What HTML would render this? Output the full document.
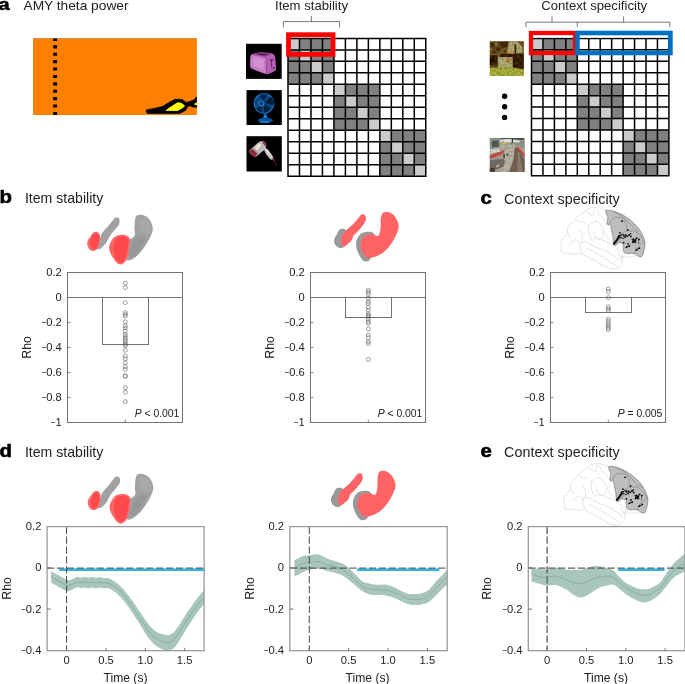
<!DOCTYPE html>
<html lang="en"><head><meta charset="utf-8"><title>Figure</title>
<style>html,body{margin:0;padding:0;background:#fff;}body{width:685px;height:684px;overflow:hidden;}svg{display:block;font-family:"Liberation Sans", sans-serif;will-change:transform;}</style></head><body>
<svg width="685" height="684" viewBox="0 0 685 684">
<defs><filter id="b1" x="-10%" y="-10%" width="120%" height="120%"><feGaussianBlur stdDeviation="0.35"/></filter><filter id="b15" x="-10%" y="-10%" width="120%" height="120%"><feGaussianBlur stdDeviation="0.5"/></filter><filter id="b2" x="-10%" y="-10%" width="120%" height="120%"><feGaussianBlur stdDeviation="0.6"/></filter><filter id="b3" x="-10%" y="-10%" width="120%" height="120%"><feGaussianBlur stdDeviation="1.1"/></filter><filter id="tx" x="0" y="0" width="100%" height="100%"><feTurbulence type="fractalNoise" baseFrequency="0.4" numOctaves="2" seed="7" result="n"/><feColorMatrix in="n" type="matrix" values="0 0 0 0 0.1  0 0 0 0 0.05  0 0 0 0 0  1.5 0 0 0 -0.6" result="a"/><feComposite in="a" in2="SourceGraphic" operator="in" result="m"/><feMerge><feMergeNode in="SourceGraphic"/><feMergeNode in="m"/></feMerge></filter><filter id="tx2" x="0" y="0" width="100%" height="100%"><feTurbulence type="fractalNoise" baseFrequency="0.45" numOctaves="2" seed="11" result="n"/><feColorMatrix in="n" type="matrix" values="0 0 0 0 0.15  0 0 0 0 0.15  0 0 0 0 0.15  1.4 0 0 0 -0.62" result="a"/><feComposite in="a" in2="SourceGraphic" operator="in" result="m"/><feMerge><feMergeNode in="SourceGraphic"/><feMergeNode in="m"/></feMerge></filter></defs>
<rect width="685" height="684" fill="#fff"/>
<text transform="translate(9.6 10.3) scale(1.16 1)" font-size="17.2" font-weight="bold" text-anchor="end" fill="#000" stroke="#000" stroke-width="0.55" stroke-linejoin="round">a</text>
<text x="23.5" y="10.1" font-size="12.4" text-anchor="start" font-weight="normal" font-style="normal" fill="#222" textLength="105" lengthAdjust="spacingAndGlyphs">AMY theta power</text>
<rect x="33" y="38.2" width="163.9" height="76.8" fill="#ff7f00"/>
<line x1="33" y1="38.4" x2="196.9" y2="38.4" stroke="#8a8a8a" stroke-width="0.5"/>
<line x1="55.1" y1="38.6" x2="55.1" y2="115" stroke="#000" stroke-width="3.9" stroke-dasharray="3.1 4.3" stroke-dashoffset="0.7"/>
<clipPath id="oc"><rect x="33" y="38.2" width="163.9" height="76.8"/></clipPath>
<g clip-path="url(#oc)">
<polygon points="146.57,109.7 154.01,108.39 162.77,106.37 168.9,102.43 175.03,99.28 182.03,99.28 186.41,102.43 190.79,101.12 194.29,99.81 195.87,97.18 197.79,96.83 197.79,107.51 192.54,107.08 189.91,105.76 187.72,106.81 185.53,110.58 179.84,113.47 147.44,113.47 146.13,111.54" fill="#000" stroke="#000" stroke-width="0.6" stroke-linejoin="round"/>
<polygon points="164.96,110.67 169.77,107.16 177.65,102.26 181.16,102.78 185.1,105.85 182.91,107.95 177.65,111.02" fill="#ffff00"/>
<polygon points="194.12,104.01 197.79,101.38 197.79,105.06 194.73,105.06" fill="#ffff00"/>
</g>
<rect x="288" y="38.4" width="137.76" height="137.76" fill="#fff"/>
<rect x="288" y="38.4" width="11.48" height="11.48" fill="#cbcbcb"/>
<rect x="299.48" y="38.4" width="11.48" height="11.48" fill="#808080"/>
<rect x="310.96" y="38.4" width="11.48" height="11.48" fill="#808080"/>
<rect x="322.44" y="38.4" width="11.48" height="11.48" fill="#808080"/>
<rect x="288" y="49.88" width="11.48" height="11.48" fill="#808080"/>
<rect x="299.48" y="49.88" width="11.48" height="11.48" fill="#cbcbcb"/>
<rect x="310.96" y="49.88" width="11.48" height="11.48" fill="#808080"/>
<rect x="322.44" y="49.88" width="11.48" height="11.48" fill="#808080"/>
<rect x="288" y="61.36" width="11.48" height="11.48" fill="#808080"/>
<rect x="299.48" y="61.36" width="11.48" height="11.48" fill="#808080"/>
<rect x="310.96" y="61.36" width="11.48" height="11.48" fill="#cbcbcb"/>
<rect x="322.44" y="61.36" width="11.48" height="11.48" fill="#808080"/>
<rect x="288" y="72.84" width="11.48" height="11.48" fill="#808080"/>
<rect x="299.48" y="72.84" width="11.48" height="11.48" fill="#808080"/>
<rect x="310.96" y="72.84" width="11.48" height="11.48" fill="#808080"/>
<rect x="322.44" y="72.84" width="11.48" height="11.48" fill="#cbcbcb"/>
<rect x="333.92" y="84.32" width="11.48" height="11.48" fill="#cbcbcb"/>
<rect x="345.4" y="84.32" width="11.48" height="11.48" fill="#808080"/>
<rect x="356.88" y="84.32" width="11.48" height="11.48" fill="#808080"/>
<rect x="368.36" y="84.32" width="11.48" height="11.48" fill="#808080"/>
<rect x="333.92" y="95.8" width="11.48" height="11.48" fill="#808080"/>
<rect x="345.4" y="95.8" width="11.48" height="11.48" fill="#cbcbcb"/>
<rect x="356.88" y="95.8" width="11.48" height="11.48" fill="#808080"/>
<rect x="368.36" y="95.8" width="11.48" height="11.48" fill="#808080"/>
<rect x="333.92" y="107.28" width="11.48" height="11.48" fill="#808080"/>
<rect x="345.4" y="107.28" width="11.48" height="11.48" fill="#808080"/>
<rect x="356.88" y="107.28" width="11.48" height="11.48" fill="#cbcbcb"/>
<rect x="368.36" y="107.28" width="11.48" height="11.48" fill="#808080"/>
<rect x="333.92" y="118.76" width="11.48" height="11.48" fill="#808080"/>
<rect x="345.4" y="118.76" width="11.48" height="11.48" fill="#808080"/>
<rect x="356.88" y="118.76" width="11.48" height="11.48" fill="#808080"/>
<rect x="368.36" y="118.76" width="11.48" height="11.48" fill="#cbcbcb"/>
<rect x="379.84" y="130.24" width="11.48" height="11.48" fill="#cbcbcb"/>
<rect x="391.32" y="130.24" width="11.48" height="11.48" fill="#808080"/>
<rect x="402.8" y="130.24" width="11.48" height="11.48" fill="#808080"/>
<rect x="414.28" y="130.24" width="11.48" height="11.48" fill="#808080"/>
<rect x="379.84" y="141.72" width="11.48" height="11.48" fill="#808080"/>
<rect x="391.32" y="141.72" width="11.48" height="11.48" fill="#cbcbcb"/>
<rect x="402.8" y="141.72" width="11.48" height="11.48" fill="#808080"/>
<rect x="414.28" y="141.72" width="11.48" height="11.48" fill="#808080"/>
<rect x="379.84" y="153.2" width="11.48" height="11.48" fill="#808080"/>
<rect x="391.32" y="153.2" width="11.48" height="11.48" fill="#808080"/>
<rect x="402.8" y="153.2" width="11.48" height="11.48" fill="#cbcbcb"/>
<rect x="414.28" y="153.2" width="11.48" height="11.48" fill="#808080"/>
<rect x="379.84" y="164.68" width="11.48" height="11.48" fill="#808080"/>
<rect x="391.32" y="164.68" width="11.48" height="11.48" fill="#808080"/>
<rect x="402.8" y="164.68" width="11.48" height="11.48" fill="#808080"/>
<rect x="414.28" y="164.68" width="11.48" height="11.48" fill="#cbcbcb"/>
<path d="M288 37.65V176.91M287.25 38.4H426.51M299.48 37.65V176.91M287.25 49.88H426.51M310.96 37.65V176.91M287.25 61.36H426.51M322.44 37.65V176.91M287.25 72.84H426.51M333.92 37.65V176.91M287.25 84.32H426.51M345.4 37.65V176.91M287.25 95.8H426.51M356.88 37.65V176.91M287.25 107.28H426.51M368.36 37.65V176.91M287.25 118.76H426.51M379.84 37.65V176.91M287.25 130.24H426.51M391.32 37.65V176.91M287.25 141.72H426.51M402.8 37.65V176.91M287.25 153.2H426.51M414.28 37.65V176.91M287.25 164.68H426.51M425.76 37.65V176.91M287.25 176.16H426.51" stroke="#000" stroke-width="1.5" fill="none"/>
<rect x="531.5" y="38.4" width="137.4" height="137.4" fill="#fff"/>
<rect x="531.5" y="38.4" width="11.45" height="11.45" fill="#cbcbcb"/>
<rect x="542.95" y="38.4" width="11.45" height="11.45" fill="#808080"/>
<rect x="554.4" y="38.4" width="11.45" height="11.45" fill="#808080"/>
<rect x="565.85" y="38.4" width="11.45" height="11.45" fill="#808080"/>
<rect x="531.5" y="49.85" width="11.45" height="11.45" fill="#808080"/>
<rect x="542.95" y="49.85" width="11.45" height="11.45" fill="#cbcbcb"/>
<rect x="554.4" y="49.85" width="11.45" height="11.45" fill="#808080"/>
<rect x="565.85" y="49.85" width="11.45" height="11.45" fill="#808080"/>
<rect x="531.5" y="61.3" width="11.45" height="11.45" fill="#808080"/>
<rect x="542.95" y="61.3" width="11.45" height="11.45" fill="#808080"/>
<rect x="554.4" y="61.3" width="11.45" height="11.45" fill="#cbcbcb"/>
<rect x="565.85" y="61.3" width="11.45" height="11.45" fill="#808080"/>
<rect x="531.5" y="72.75" width="11.45" height="11.45" fill="#808080"/>
<rect x="542.95" y="72.75" width="11.45" height="11.45" fill="#808080"/>
<rect x="554.4" y="72.75" width="11.45" height="11.45" fill="#808080"/>
<rect x="565.85" y="72.75" width="11.45" height="11.45" fill="#cbcbcb"/>
<rect x="577.3" y="84.2" width="11.45" height="11.45" fill="#cbcbcb"/>
<rect x="588.75" y="84.2" width="11.45" height="11.45" fill="#808080"/>
<rect x="600.2" y="84.2" width="11.45" height="11.45" fill="#808080"/>
<rect x="611.65" y="84.2" width="11.45" height="11.45" fill="#808080"/>
<rect x="577.3" y="95.65" width="11.45" height="11.45" fill="#808080"/>
<rect x="588.75" y="95.65" width="11.45" height="11.45" fill="#cbcbcb"/>
<rect x="600.2" y="95.65" width="11.45" height="11.45" fill="#808080"/>
<rect x="611.65" y="95.65" width="11.45" height="11.45" fill="#808080"/>
<rect x="577.3" y="107.1" width="11.45" height="11.45" fill="#808080"/>
<rect x="588.75" y="107.1" width="11.45" height="11.45" fill="#808080"/>
<rect x="600.2" y="107.1" width="11.45" height="11.45" fill="#cbcbcb"/>
<rect x="611.65" y="107.1" width="11.45" height="11.45" fill="#808080"/>
<rect x="577.3" y="118.55" width="11.45" height="11.45" fill="#808080"/>
<rect x="588.75" y="118.55" width="11.45" height="11.45" fill="#808080"/>
<rect x="600.2" y="118.55" width="11.45" height="11.45" fill="#808080"/>
<rect x="611.65" y="118.55" width="11.45" height="11.45" fill="#cbcbcb"/>
<rect x="623.1" y="130" width="11.45" height="11.45" fill="#cbcbcb"/>
<rect x="634.55" y="130" width="11.45" height="11.45" fill="#808080"/>
<rect x="646" y="130" width="11.45" height="11.45" fill="#808080"/>
<rect x="657.45" y="130" width="11.45" height="11.45" fill="#808080"/>
<rect x="623.1" y="141.45" width="11.45" height="11.45" fill="#808080"/>
<rect x="634.55" y="141.45" width="11.45" height="11.45" fill="#cbcbcb"/>
<rect x="646" y="141.45" width="11.45" height="11.45" fill="#808080"/>
<rect x="657.45" y="141.45" width="11.45" height="11.45" fill="#808080"/>
<rect x="623.1" y="152.9" width="11.45" height="11.45" fill="#808080"/>
<rect x="634.55" y="152.9" width="11.45" height="11.45" fill="#808080"/>
<rect x="646" y="152.9" width="11.45" height="11.45" fill="#cbcbcb"/>
<rect x="657.45" y="152.9" width="11.45" height="11.45" fill="#808080"/>
<rect x="623.1" y="164.35" width="11.45" height="11.45" fill="#808080"/>
<rect x="634.55" y="164.35" width="11.45" height="11.45" fill="#808080"/>
<rect x="646" y="164.35" width="11.45" height="11.45" fill="#808080"/>
<rect x="657.45" y="164.35" width="11.45" height="11.45" fill="#cbcbcb"/>
<path d="M531.5 37.65V176.55M530.75 38.4H669.65M542.95 37.65V176.55M530.75 49.85H669.65M554.4 37.65V176.55M530.75 61.3H669.65M565.85 37.65V176.55M530.75 72.75H669.65M577.3 37.65V176.55M530.75 84.2H669.65M588.75 37.65V176.55M530.75 95.65H669.65M600.2 37.65V176.55M530.75 107.1H669.65M611.65 37.65V176.55M530.75 118.55H669.65M623.1 37.65V176.55M530.75 130H669.65M634.55 37.65V176.55M530.75 141.45H669.65M646 37.65V176.55M530.75 152.9H669.65M657.45 37.65V176.55M530.75 164.35H669.65M668.9 37.65V176.55M530.75 175.8H669.65" stroke="#000" stroke-width="1.5" fill="none"/>
<rect x="288.5" y="34.7" width="44.5" height="19.7" fill="none" stroke="#ff0000" stroke-width="4.8"/>
<rect x="531" y="33" width="139" height="4.6" fill="#fff"/>
<rect x="531" y="33" width="44" height="20" fill="none" stroke="#ff0000" stroke-width="4.3"/>
<rect x="577.4" y="33" width="93" height="20" fill="none" stroke="#0070c0" stroke-width="4.6"/>
<path d="M283.4 27.4V21.6H339.6V27.4M311.4 21.6V16" fill="none" stroke="#555" stroke-width="0.8"/>
<path d="M526 27.2V22.2H669.8V27.2M577.3 22.2V27.2M552 22.2V16.4M623.6 22.2V16.4" fill="none" stroke="#555" stroke-width="0.8"/>
<text x="275" y="10.2" font-size="12.4" text-anchor="start" font-weight="normal" font-style="normal" fill="#222" textLength="73" lengthAdjust="spacingAndGlyphs">Item stability</text>
<text x="541.2" y="10.1" font-size="12.4" text-anchor="start" font-weight="normal" font-style="normal" fill="#222" textLength="106" lengthAdjust="spacingAndGlyphs">Context specificity</text>
<rect x="246" y="43.8" width="35.7" height="35.1" fill="#000"/>
<g filter="url(#b15)">
<path d="M251.7 54.23C252.6 53.9 259.49 52.39 261.2 52.33C262.9 52.27 271.02 53.2 272.16 53.5C273.31 53.8 274.65 55.19 274.94 55.91C275.23 56.63 275.61 60.93 275.67 62.12C275.73 63.31 276.44 69.15 275.67 70.16C274.9 71.17 268.52 74.42 266.46 74.26C264.4 74.1 252.33 69.27 250.96 68.26C249.6 67.25 250.14 63.12 250.09 62.12C250.04 61.12 250.25 56.93 250.38 56.27C250.51 55.62 250.79 54.56 251.7 54.23Z" fill="#b65eb6"/>
<path d="M251.55 55.54C252.69 55.25 263.31 57.46 264.49 57.88C265.67 58.31 265.63 59.41 265.73 60.66C265.83 61.92 266.9 72.37 265.73 72.94C264.56 73.51 252.94 68.49 251.7 67.53C250.45 66.57 250.83 62.39 250.82 61.39C250.81 60.39 250.41 55.84 251.55 55.54Z" fill="#c980c8"/>
<path d="M253.89 58.47C254.96 57.69 261.39 58.57 262.66 59.93C263.93 61.29 264.46 67.92 263.39 68.7C262.32 69.48 255.89 67.14 254.62 65.78C253.35 64.41 252.82 59.25 253.89 58.47Z" fill="#d596d3" opacity="0.8"/>
<polygon points="252.06,54.37 261.2,52.47 271.87,53.64 265.22,56.86" fill="#8a3c8b"/>
<polygon points="255.72,54.23 261.2,53.2 268.51,54.08 264.12,55.54" fill="#5a205a"/>
<polygon points="271.14,59.35 271.8,59.35 271.94,67.24 271.29,67.24" fill="#3a0f3a"/>
<polygon points="269.82,59.71 273.48,59.35 273.48,60.15 269.82,60.51" fill="#3a0f3a"/>
<circle cx="273.63" cy="67.97" r="0.8" fill="#2a082a"/>
<line x1="266.32" y1="59.93" x2="266.46" y2="73.96" stroke="#8a448a" stroke-width="0.7"/>
</g>
<rect x="246.5" y="90.1" width="35.3" height="34.9" fill="#000"/>
<g filter="url(#b2)">
<circle cx="263.98" cy="103.37" r="9.9" fill="#0a4482" stroke="#167fd6" stroke-width="1.1"/>
<path d="M264.78 102.87 l6.5 -6 a9 9 0 0 1 2.2 8.5z" fill="#031a36"/>
<path d="M264.58 104.17 l-1 8.6 a9 9 0 0 0 7.5 -4.2z" fill="#04203f"/>
<path d="M263.48 102.37 l-3.5 -7.5 a9 9 0 0 1 7 -0.8z" fill="#052548"/>
<path d="M262.78 104.37 l-6.5 4.5 a9 9 0 0 0 5 4z" fill="#052548"/>
<circle cx="261.18" cy="103.37" r="2.7" fill="#0a3a70" stroke="#2c97ec" stroke-width="0.9"/>
<rect x="263.84" y="112.87" width="3" height="5.4" fill="#0b5aa8"/>
<rect x="263.44" y="115.87" width="3.6" height="1.9" fill="#1c9bf5"/>
<ellipse cx="265.44" cy="120.18" rx="7.4" ry="2.6" fill="#0a4f94"/>
<ellipse cx="264.49" cy="122.01" rx="5.5" ry="0.9" fill="#1480d6"/>
</g>
<rect x="246.5" y="136.2" width="35.3" height="35.3" fill="#000"/>
<g filter="url(#b15)">
<path d="M259.59 141.55C260.32 141.21 262.88 140.72 263.54 140.96C264.2 141.21 266 143.22 266.17 144.04C266.34 144.85 265.64 148.39 265.22 149.15C264.8 149.91 262.95 150.86 261.93 151.64C260.91 152.41 256.29 156.89 254.99 156.9C253.68 156.92 248.79 153.04 248.92 151.78C249.04 150.53 255.16 145.35 256.23 144.33C257.3 143.3 258.86 141.89 259.59 141.55Z" fill="#bdb8c0"/>
<polygon points="258.27,143.6 261.35,144.47 257.4,150.47 254.33,149.15" fill="#f1e7ca"/>
<polygon points="248.48,151.64 252.57,148.86 257.54,153.83 254.47,157.49" fill="#8c2a34"/>
<polygon points="252.57,148.86 254.33,147.84 259.15,152.66 257.54,153.83" fill="#a8a0a8"/>
<polygon points="262.08,141.55 264.12,141.4 265.88,143.89 265.29,146.23 263.54,143.89" fill="#7d2430"/>
<path d="M264.49 148.13C264.73 147.81 266.75 148.61 267.41 149.15C268.07 149.69 270.45 152.62 271.07 153.54C271.69 154.46 273.5 157.72 273.63 158.36C273.75 159.01 272.79 160.04 272.31 159.97C271.83 159.9 269.61 158.39 268.87 157.63C268.14 156.87 265.44 153.32 265 152.37C264.56 151.42 264.25 148.45 264.49 148.13Z" fill="#cbc6ce"/>
<polygon points="265.73,149.15 267.34,149.59 270.12,154.12 268.95,154.56" fill="#f0e6c8"/>
<polygon points="272.02,158.07 274.36,158.65 274.94,160.85 272.89,160.41" fill="#6c2430"/>
<polyline points="273.99,159.97 275.45,163.26 276.55,165.82" fill="none" stroke="#6c2a34" stroke-width="0.9"/>
</g>
<clipPath id="hc"><rect x="489.7" y="41.3" width="34.2" height="34.6"/></clipPath>
<g clip-path="url(#hc)"><g filter="url(#b2)"><g filter="url(#tx)">
<rect x="488" y="40" width="38" height="38" fill="#7c6232"/>
<polygon points="489.73,41.33 501.27,41.33 504.93,46.81 500.54,51.93 496.16,54.12 489.73,53.39" fill="#624620"/>
<circle cx="492.5" cy="44.99" r="1.9" fill="#402a10"/>
<circle cx="497.99" cy="49.15" r="2.05" fill="#3c260e"/>
<circle cx="503.1" cy="44.47" r="1.9" fill="#3a240c"/>
<circle cx="493.96" cy="52.3" r="1.46" fill="#402a10"/>
<circle cx="504.93" cy="51.35" r="1.46" fill="#46300f"/>
<circle cx="496.3" cy="44.04" r="1.61" fill="#98783c"/>
<circle cx="490.89" cy="49.15" r="1.46" fill="#927236"/>
<circle cx="500.91" cy="52.3" r="1.32" fill="#8a6a30"/>
<circle cx="500.54" cy="42.79" r="1.02" fill="#7a5a28"/>
<circle cx="506.39" cy="47.54" r="0.88" fill="#76561f"/>
<polygon points="498.35,41.33 508.58,41.33 508.22,46.45 502.74,48.27" fill="#3a220c"/>
<polygon points="508.95,42.06 517.36,41.7 522.47,47.18 522.11,52.81 507.49,53.25 508.22,44.62" fill="#b0aa72"/>
<polygon points="508.22,50.61 515.16,50.61 515.16,54.12 508.22,54.12" fill="#c89a58"/>
<polygon points="514.58,44.25 516.19,44.25 516.19,53.39 514.58,53.39" fill="#2b1607"/>
<polygon points="517.36,41.33 524.3,41.33 524.3,48.27" fill="#6a4c20"/>
<polygon points="500.18,53.76 524.3,53.76 524.3,69.47 512.61,68.38 512.61,57.19 500.18,57.19" fill="#2a1608"/>
<polygon points="489.43,55.22 497.62,55.22 497.62,65.09 489.43,65.09" fill="#1c0e05"/>
<polygon points="497.84,57.05 512.61,57.05 512.61,68.01 497.84,68.01" fill="#b0ac74"/>
<polygon points="506.25,57.41 509.46,57.41 509.46,62.53 506.25,62.53" fill="#b87a3c"/>
<polygon points="489.43,64.94 497.99,64.21 497.99,68.16 489.43,68.16" fill="#5a4a20"/>
<polygon points="489.21,67.87 512.24,67.43 524.3,69.47 524.3,76.78 489.21,76.78" fill="#a9b23e"/>
</g></g></g>
<clipPath id="sc"><rect x="489.7" y="138.1" width="35.1" height="33.8"/></clipPath>
<g clip-path="url(#sc)"><g filter="url(#b2)"><g filter="url(#tx2)">
<rect x="488" y="136" width="39" height="38" fill="#a69e8e"/>
<polygon points="489.21,137.5 525.4,137.5 525.4,146.27 512.24,145.54 489.21,149.2" fill="#8e9488"/>
<polygon points="492.14,140.79 498.72,140.43 498.72,146.64 492.14,147.37" fill="#46544c"/>
<polygon points="500.54,137.5 523.94,137.5 523.94,139.7 500.54,139.55" fill="#3e4842"/>
<polygon points="500.18,139.4 509.32,138.67 519.55,140.43 519.55,142.62 500.18,142.33" fill="#e0e4dc"/>
<polygon points="511.8,137.5 513.04,137.5 513.04,142.99 511.8,142.99" fill="#2e3a34"/>
<polygon points="500.54,143.06 508.73,143.06 508.73,144.23 500.54,144.23" fill="#d9c43a"/>
<polygon points="499.81,144.81 515.16,144.45 515.16,147.37 499.81,148.83" fill="#b4b4a8"/>
<polygon points="489.21,149.2 499.08,148.47 500.54,151.39 489.21,153.73" fill="#d4d8d0"/>
<polygon points="489.21,155.78 504.2,150.3 504.78,152.12 501.27,154.32 491.04,158.56 489.21,158.56" fill="#cc3f38"/>
<polygon points="489.21,160.16 504.2,158.7 504.93,166.01 489.21,172.59" fill="#706860"/>
<polygon points="504.2,149.93 514.43,147.15 513.7,158.7 507.12,172.59 500.54,172.59 504.93,163.09" fill="#bab2a2"/>
<polygon points="514.8,147.74 517.36,147.74 525.4,160.16 525.4,172.59 509.32,172.59 513.7,158.7" fill="#705c4c"/>
<polygon points="517.36,152.12 519.55,152.12 522.47,172.59 517.36,172.59" fill="#8e7c6c"/>
<polygon points="516.48,146.86 518.09,147.3 525.4,155.05 525.4,157.97 517.36,149.2" fill="#c4433a"/>
<polygon points="489.21,167.84 494.7,167.84 494.7,172.59 489.21,172.59" fill="#40362c"/>
<polygon points="503.32,154.32 504.93,154.32 504.93,158.12 503.32,158.12" fill="#3a4650"/>
<polygon points="506.39,153.58 508.58,153.58 508.58,155.78 506.39,155.78" fill="#4a5058"/>
<polygon points="496.16,166.01 498.72,164.55 499.08,165.65 496.52,167.47" fill="#dcd8cc"/>
</g></g></g>
<circle cx="504.6" cy="96.2" r="2.7" fill="#000"/>
<circle cx="504.6" cy="106.8" r="2.7" fill="#000"/>
<circle cx="504.6" cy="117.4" r="2.7" fill="#000"/>
<text transform="translate(11.9 202.5) scale(1.16 1)" font-size="17.6" font-weight="bold" text-anchor="end" fill="#000" stroke="#000" stroke-width="0.55" stroke-linejoin="round">b</text>
<text x="24.9" y="202.5" font-size="14.3" text-anchor="start" font-weight="normal" font-style="normal" fill="#222" textLength="78.4" lengthAdjust="spacingAndGlyphs">Item stability</text>
<g filter="url(#b1)">
<path d="M114.69 217.88C115.63 217.35 117.3 217.24 118.11 217.61C118.92 217.99 119.42 218.93 119.55 220.11C119.68 221.29 119.62 223.18 118.9 224.71C118.17 226.24 116.66 227.51 115.22 229.31C113.77 231.11 111.76 233.19 110.22 235.49C108.69 237.79 107.73 240.87 106.02 243.11C104.31 245.34 101.42 248.19 99.97 248.89C98.53 249.59 97.39 248.85 97.35 247.31C97.3 245.78 98.92 242.06 99.71 239.69C100.5 237.33 100.72 235.31 102.08 233.12C103.43 230.93 106.13 228.61 107.86 226.55C109.59 224.49 111.32 222.21 112.46 220.77C113.6 219.32 113.75 218.4 114.69 217.88Z" fill="#a0a2a1"/>
<path d="M93.14 232.86C94.19 232.16 95.99 231.65 97.08 231.94C98.18 232.22 99.21 233.36 99.71 234.57C100.21 235.77 100.15 237.52 100.11 239.17C100.06 240.81 99.95 242.74 99.45 244.42C98.94 246.11 98.13 248.19 97.08 249.28C96.03 250.38 94.41 250.99 93.14 250.99C91.87 250.99 90.45 250.38 89.46 249.28C88.48 248.19 87.45 246 87.23 244.42C87.01 242.84 87.56 241.2 88.15 239.82C88.74 238.44 89.94 237.3 90.78 236.14C91.61 234.98 92.09 233.56 93.14 232.86Z" fill="#ff6668"/>
<path d="M93.8 234.17C94.63 233.69 96.25 233.36 97.08 233.65C97.92 233.93 98.48 234.92 98.79 235.88C99.1 236.84 99.03 238.05 98.92 239.43C98.81 240.81 98.66 242.76 98.13 244.16C97.61 245.56 96.6 247.01 95.77 247.84C94.94 248.67 93.93 249.24 93.14 249.15C92.35 249.06 91.61 248.19 91.04 247.31C90.47 246.44 89.72 245.21 89.72 243.9C89.72 242.58 90.64 240.65 91.04 239.43C91.43 238.2 91.63 237.41 92.09 236.54C92.55 235.66 92.97 234.65 93.8 234.17Z" fill="#ff4a4e"/>
<path d="M136.5 215.78C137.64 214.79 139.9 214.57 141.76 214.86C143.62 215.14 146.03 216.06 147.67 217.48C149.32 218.91 150.78 221.32 151.62 223.4C152.45 225.48 152.95 227.56 152.67 229.97C152.38 232.38 151.29 235 149.91 237.85C148.53 240.7 146.4 244.2 144.39 247.05C142.37 249.9 139.96 252.85 137.82 254.93C135.67 257.01 133.33 258.66 131.51 259.53C129.69 260.41 127.83 260.96 126.91 260.19C125.99 259.42 125.66 257.56 125.99 254.93C126.32 252.31 128.23 247.01 128.88 244.42C129.54 241.84 129.32 240.52 129.93 239.43C130.55 238.33 131.73 238.66 132.56 237.85C133.39 237.04 134.62 236.1 134.93 234.57C135.23 233.03 134.4 230.95 134.4 228.65C134.4 226.35 134.58 222.92 134.93 220.77C135.28 218.62 135.37 216.76 136.5 215.78Z" fill="#a0a2a1"/>
<path d="M136.5 237.85C138.21 236.1 140.23 235.22 141.76 235.22C143.29 235.22 145.7 235.88 145.7 237.85C145.7 239.82 143.51 244.2 141.76 247.05C140.01 249.9 137.05 253.07 135.19 254.93C133.33 256.8 131.64 258.22 130.59 258.22C129.54 258.22 128.73 257.01 128.88 254.93C129.04 252.85 130.24 248.58 131.51 245.74C132.78 242.89 134.8 239.6 136.5 237.85Z" fill="#939594" opacity="0.8" filter="url(#b3)"/>
<path d="M139.13 219.45C140.12 217.81 143.84 217.92 145.7 218.8C147.56 219.67 149.65 222.41 150.3 224.71C150.96 227.01 150.63 231.17 149.65 232.6C148.66 234.02 146.03 233.91 144.39 233.25C142.75 232.6 140.67 230.95 139.79 228.65C138.91 226.35 138.15 221.1 139.13 219.45Z" fill="#a9abaa" opacity="0.8" filter="url(#b3)"/>
<path d="M117.45 235.49C119.07 234.98 121.61 234.65 123.36 234.83C125.12 235 126.85 235.71 127.96 236.54C129.08 237.37 129.82 238.07 130.07 239.82C130.31 241.57 129.74 244.53 129.41 247.05C129.08 249.57 128.75 252.53 128.09 254.93C127.44 257.34 126.69 259.91 125.47 261.5C124.24 263.1 122.18 264.31 120.74 264.53C119.29 264.75 118.11 263.98 116.79 262.82C115.48 261.66 113.99 259.31 112.85 257.56C111.71 255.81 110.6 254.06 109.96 252.31C109.33 250.55 108.89 248.8 109.04 247.05C109.19 245.3 110.11 243.33 110.88 241.79C111.65 240.26 112.54 238.9 113.64 237.85C114.73 236.8 115.83 235.99 117.45 235.49Z" fill="#ff6668"/>
<path d="M118.37 237.06C119.68 236.58 121.92 236.36 123.36 236.54C124.81 236.71 126.21 237.41 127.04 238.11C127.88 238.82 128.23 239.21 128.36 240.74C128.49 242.28 128.14 245.04 127.83 247.31C127.53 249.59 127.13 252.26 126.52 254.41C125.9 256.55 125.12 258.83 124.15 260.19C123.19 261.55 121.79 262.38 120.74 262.56C119.68 262.73 118.81 262.16 117.84 261.24C116.88 260.32 115.52 258.48 114.95 257.04C114.38 255.59 114.78 254.06 114.43 252.57C114.08 251.08 112.85 249.63 112.85 248.1C112.85 246.57 113.99 244.82 114.43 243.37C114.87 241.93 114.82 240.48 115.48 239.43C116.14 238.38 117.06 237.54 118.37 237.06Z" fill="#ff4a4e"/>
</g>
<rect x="102.5" y="297.5" width="46" height="47" fill="#fff" stroke="#727272" stroke-width="1"/>
<rect x="67.5" y="272.5" width="115" height="150" fill="none" stroke="#727272" stroke-width="1"/>
<line x1="67.5" y1="297.5" x2="182.5" y2="297.5" stroke="#727272" stroke-width="1"/>
<text transform="translate(61.8 276.2) scale(1.12 1)" font-size="10" text-anchor="end" font-weight="normal" font-style="normal" fill="#222">0.2</text>
<text transform="translate(61.8 301.2) scale(1.12 1)" font-size="10" text-anchor="end" font-weight="normal" font-style="normal" fill="#222">0</text>
<text transform="translate(61.8 326.2) scale(1.12 1)" font-size="10" text-anchor="end" font-weight="normal" font-style="normal" fill="#222">0.2</text>
<text transform="translate(46.33 326.2) scale(0.8 1)" font-size="10" text-anchor="end" font-weight="normal" font-style="normal" fill="#222">−</text>
<text transform="translate(61.8 351.2) scale(1.12 1)" font-size="10" text-anchor="end" font-weight="normal" font-style="normal" fill="#222">0.4</text>
<text transform="translate(46.33 351.2) scale(0.8 1)" font-size="10" text-anchor="end" font-weight="normal" font-style="normal" fill="#222">−</text>
<text transform="translate(61.8 376.2) scale(1.12 1)" font-size="10" text-anchor="end" font-weight="normal" font-style="normal" fill="#222">0.6</text>
<text transform="translate(46.33 376.2) scale(0.8 1)" font-size="10" text-anchor="end" font-weight="normal" font-style="normal" fill="#222">−</text>
<text transform="translate(61.8 401.2) scale(1.12 1)" font-size="10" text-anchor="end" font-weight="normal" font-style="normal" fill="#222">0.8</text>
<text transform="translate(46.33 401.2) scale(0.8 1)" font-size="10" text-anchor="end" font-weight="normal" font-style="normal" fill="#222">−</text>
<text transform="translate(61.8 426.2) scale(1.12 1)" font-size="10" text-anchor="end" font-weight="normal" font-style="normal" fill="#222">1</text>
<text transform="translate(55.67 426.2) scale(0.8 1)" font-size="10" text-anchor="end" font-weight="normal" font-style="normal" fill="#222">−</text>
<path d="M67.5 322.5h3M67.5 347.5h3M67.5 372.5h3M67.5 397.5h3M125.3 422.5v-3" stroke="#727272" stroke-width="0.8" fill="none"/>
<g fill="none" stroke="#555" stroke-width="0.55">
<circle cx="125.3" cy="283.16" r="2"/>
<circle cx="125.3" cy="287.63" r="2"/>
<circle cx="125.3" cy="302.63" r="2"/>
<circle cx="125.3" cy="312.63" r="2"/>
<circle cx="125.3" cy="314.47" r="2"/>
<circle cx="125.3" cy="316.05" r="2"/>
<circle cx="125.3" cy="321.84" r="2"/>
<circle cx="125.3" cy="325.79" r="2"/>
<circle cx="125.3" cy="327.89" r="2"/>
<circle cx="125.3" cy="331.05" r="2"/>
<circle cx="125.3" cy="334.47" r="2"/>
<circle cx="125.3" cy="336.32" r="2"/>
<circle cx="125.3" cy="338.16" r="2"/>
<circle cx="125.3" cy="340.26" r="2"/>
<circle cx="125.3" cy="342.11" r="2"/>
<circle cx="125.3" cy="344.21" r="2"/>
<circle cx="125.3" cy="345.53" r="2"/>
<circle cx="125.3" cy="350.26" r="2"/>
<circle cx="125.3" cy="356.05" r="2"/>
<circle cx="125.3" cy="358.68" r="2"/>
<circle cx="125.3" cy="362.63" r="2"/>
<circle cx="125.3" cy="366.58" r="2"/>
<circle cx="125.3" cy="369.21" r="2"/>
<circle cx="125.3" cy="375.79" r="2"/>
<circle cx="125.3" cy="376.32" r="2"/>
<circle cx="125.3" cy="387.63" r="2"/>
<circle cx="125.3" cy="392.11" r="2"/>
<circle cx="125.3" cy="401.58" r="2"/>
</g>
<text transform="translate(31.2 347.4) rotate(-90)" font-size="12" text-anchor="middle" fill="#222" textLength="22.5" lengthAdjust="spacingAndGlyphs">Rho</text>
<text transform="translate(179.4 416.6) scale(1.04 1)" font-size="10" text-anchor="end" fill="#222"><tspan font-style="italic">P</tspan> &lt; 0.001</text>
<g filter="url(#b1)">
<path d="M339.72 229.44C341.03 228.54 343.55 228.54 344.71 229.18C345.87 229.81 346.46 231.15 346.68 233.25C346.9 235.35 346.46 239.54 346.02 241.79C345.59 244.05 344.97 245.71 344.05 246.79C343.13 247.86 341.71 248.28 340.51 248.23C339.3 248.19 337.83 247.38 336.83 246.52C335.82 245.67 334.86 244.44 334.46 243.11C334.07 241.77 334.07 239.93 334.46 238.51C334.86 237.08 335.95 236.08 336.83 234.57C337.7 233.06 338.4 230.34 339.72 229.44Z" fill="#989a99"/>
<path d="M363.11 232.6C364.82 232.03 367.88 231.63 369.68 231.81C371.47 231.98 372.9 232.42 373.88 233.65C374.87 234.87 375.53 236.49 375.59 239.17C375.66 241.84 375 246.61 374.28 249.68C373.55 252.74 372.13 255.77 371.25 257.56C370.38 259.36 370.05 259.82 369.02 260.45C367.99 261.09 366.28 261.59 365.08 261.37C363.87 261.15 362.89 260.43 361.79 259.14C360.7 257.85 359.43 255.64 358.51 253.62C357.59 251.61 356.6 249.24 356.27 247.05C355.95 244.86 356.01 242.45 356.54 240.48C357.06 238.51 358.33 236.54 359.43 235.22C360.52 233.91 361.4 233.16 363.11 232.6Z" fill="#989a99"/>
<path d="M361.14 214.86C362.23 214.18 363.61 214.18 364.42 214.72C365.23 215.27 365.89 216.91 366 218.14C366.11 219.37 365.78 220.66 365.08 222.08C364.38 223.51 363.11 225.04 361.79 226.68C360.48 228.32 358.62 230.41 357.19 231.94C355.77 233.47 354.13 234.57 353.25 235.88C352.38 237.19 352.92 238.4 351.94 239.82C350.95 241.25 348.72 243.3 347.34 244.42C345.96 245.54 344.67 246.63 343.66 246.52C342.65 246.41 341.69 245.1 341.29 243.76C340.9 242.43 340.94 240.26 341.29 238.51C341.64 236.76 342.39 234.79 343.4 233.25C344.4 231.72 345.7 230.84 347.34 229.31C348.98 227.78 351.5 225.81 353.25 224.05C355 222.3 356.54 220.33 357.85 218.8C359.17 217.26 360.04 215.53 361.14 214.86Z" fill="#ff6366"/>
<path d="M382.82 212.88C384.02 211.88 386.32 211.77 388.07 212.1C389.83 212.42 391.8 213.41 393.33 214.86C394.86 216.3 396.38 218.69 397.27 220.77C398.17 222.85 398.92 224.93 398.72 227.34C398.52 229.75 397.43 232.38 396.09 235.22C394.75 238.07 392.7 241.68 390.7 244.42C388.71 247.16 386.32 249.77 384.13 251.65C381.94 253.53 379.75 254.72 377.56 255.72C375.37 256.73 372.92 257.5 370.99 257.69C369.06 257.89 367.4 257.8 366 256.91C364.6 256.01 363.5 253.95 362.58 252.31C361.66 250.66 360.72 248.8 360.48 247.05C360.24 245.3 360.7 243.44 361.14 241.79C361.57 240.15 362.12 238.38 363.11 237.19C364.09 236.01 365.3 235.11 367.05 234.7C368.8 234.28 371.8 234.48 373.62 234.7C375.44 234.92 376.86 236.58 377.96 236.01C379.05 235.44 379.73 233.16 380.19 231.28C380.65 229.4 380.61 226.9 380.72 224.71C380.83 222.52 380.5 220.11 380.85 218.14C381.2 216.17 381.61 213.89 382.82 212.88Z" fill="#ff6366"/>
</g>
<rect x="345.5" y="297.5" width="46" height="20" fill="#fff" stroke="#727272" stroke-width="1"/>
<rect x="310.5" y="272.5" width="115" height="150" fill="none" stroke="#727272" stroke-width="1"/>
<line x1="310.5" y1="297.5" x2="425.5" y2="297.5" stroke="#727272" stroke-width="1"/>
<text transform="translate(304.8 276.2) scale(1.12 1)" font-size="10" text-anchor="end" font-weight="normal" font-style="normal" fill="#222">0.2</text>
<text transform="translate(304.8 301.2) scale(1.12 1)" font-size="10" text-anchor="end" font-weight="normal" font-style="normal" fill="#222">0</text>
<text transform="translate(304.8 326.2) scale(1.12 1)" font-size="10" text-anchor="end" font-weight="normal" font-style="normal" fill="#222">0.2</text>
<text transform="translate(289.33 326.2) scale(0.8 1)" font-size="10" text-anchor="end" font-weight="normal" font-style="normal" fill="#222">−</text>
<text transform="translate(304.8 351.2) scale(1.12 1)" font-size="10" text-anchor="end" font-weight="normal" font-style="normal" fill="#222">0.4</text>
<text transform="translate(289.33 351.2) scale(0.8 1)" font-size="10" text-anchor="end" font-weight="normal" font-style="normal" fill="#222">−</text>
<text transform="translate(304.8 376.2) scale(1.12 1)" font-size="10" text-anchor="end" font-weight="normal" font-style="normal" fill="#222">0.6</text>
<text transform="translate(289.33 376.2) scale(0.8 1)" font-size="10" text-anchor="end" font-weight="normal" font-style="normal" fill="#222">−</text>
<text transform="translate(304.8 401.2) scale(1.12 1)" font-size="10" text-anchor="end" font-weight="normal" font-style="normal" fill="#222">0.8</text>
<text transform="translate(289.33 401.2) scale(0.8 1)" font-size="10" text-anchor="end" font-weight="normal" font-style="normal" fill="#222">−</text>
<text transform="translate(304.8 426.2) scale(1.12 1)" font-size="10" text-anchor="end" font-weight="normal" font-style="normal" fill="#222">1</text>
<text transform="translate(298.67 426.2) scale(0.8 1)" font-size="10" text-anchor="end" font-weight="normal" font-style="normal" fill="#222">−</text>
<path d="M310.5 322.5h3M310.5 347.5h3M310.5 372.5h3M310.5 397.5h3M368.3 422.5v-3" stroke="#727272" stroke-width="0.8" fill="none"/>
<g fill="none" stroke="#555" stroke-width="0.55">
<circle cx="368.3" cy="290.26" r="2"/>
<circle cx="368.3" cy="292.11" r="2"/>
<circle cx="368.3" cy="294.21" r="2"/>
<circle cx="368.3" cy="298.16" r="2"/>
<circle cx="368.3" cy="301.58" r="2"/>
<circle cx="368.3" cy="303.42" r="2"/>
<circle cx="368.3" cy="307.37" r="2"/>
<circle cx="368.3" cy="310" r="2"/>
<circle cx="368.3" cy="313.95" r="2"/>
<circle cx="368.3" cy="315.26" r="2"/>
<circle cx="368.3" cy="316.58" r="2"/>
<circle cx="368.3" cy="319.21" r="2"/>
<circle cx="368.3" cy="321.84" r="2"/>
<circle cx="368.3" cy="323.16" r="2"/>
<circle cx="368.3" cy="328.95" r="2"/>
<circle cx="368.3" cy="335" r="2"/>
<circle cx="368.3" cy="337.63" r="2"/>
<circle cx="368.3" cy="341.58" r="2"/>
<circle cx="368.3" cy="343.42" r="2"/>
<circle cx="368.3" cy="359.47" r="2"/>
</g>
<text transform="translate(274.2 347.4) rotate(-90)" font-size="12" text-anchor="middle" fill="#222" textLength="22.5" lengthAdjust="spacingAndGlyphs">Rho</text>
<text transform="translate(422.4 416.6) scale(1.04 1)" font-size="10" text-anchor="end" fill="#222"><tspan font-style="italic">P</tspan> &lt; 0.001</text>
<text transform="translate(491.8 203.9) scale(1.16 1)" font-size="17.6" font-weight="bold" text-anchor="end" fill="#000" stroke="#000" stroke-width="0.55" stroke-linejoin="round">c</text>
<text x="504.1" y="203.8" font-size="14.3" text-anchor="start" font-weight="normal" font-style="normal" fill="#222" textLength="115.7" lengthAdjust="spacingAndGlyphs">Context specificity</text>
<g fill="none" stroke="#cdcdcd" stroke-width="0.55">
<path d="M606.6 210.31C605.67 210.02 603.11 209.09 600.98 208.58C598.86 208.07 596.05 207.16 593.83 207.25C591.62 207.33 589.23 208.27 587.7 209.09C586.17 209.9 586 211.22 584.63 212.15C583.27 213.09 581.06 213.52 579.52 214.71C577.99 215.9 576.97 217.69 575.44 219.31C573.9 220.92 571.69 222.88 570.33 224.42C568.97 225.95 567.69 226.97 567.26 228.5C566.84 230.04 568.45 232.08 567.77 233.61C567.09 235.15 564.28 236 563.17 237.7C562.07 239.4 561.39 241.62 561.13 243.83C560.88 246.05 561.27 249.45 561.64 250.98C562.02 252.52 562.27 252.69 563.38 253.03C564.49 253.37 566.27 252.82 568.28 253.03C570.29 253.23 573.39 254.25 575.44 254.25C577.48 254.25 578.84 252.72 580.55 253.03C582.25 253.33 583.44 254.9 585.66 256.09C587.87 257.29 591.28 258.82 593.83 260.18C596.39 261.54 598.6 262.99 600.98 264.27C603.37 265.55 605.58 267.13 608.14 267.84C610.69 268.56 614.1 269.12 616.31 268.56C618.53 268 620.45 265.87 621.42 264.47C622.39 263.08 622.31 261.58 622.14 260.18C621.97 258.78 621.2 257.8 620.4 256.09C619.6 254.39 617.84 250.98 617.33 249.96"/>
<path d="M585.66 211.64C586.34 211.98 588.55 213.09 589.74 213.69C590.94 214.28 592.13 215.64 592.81 215.22C593.49 214.79 593.58 212.32 593.83 211.13C594.09 209.94 594.26 208.58 594.34 208.07"/>
<path d="M596.9 209.09C597.24 209.94 597.92 212.66 598.94 214.2C599.96 215.73 601.84 216.92 603.03 218.28C604.22 219.65 604.9 221.32 606.09 222.37C607.29 223.43 609.5 224.25 610.18 224.62"/>
<path d="M575.44 219.82C576.12 220.07 577.99 220.92 579.52 221.35C581.06 221.78 583.1 221.69 584.63 222.37C586.17 223.05 587.36 225.44 588.72 225.44C590.08 225.44 591.45 222.97 592.81 222.37C594.17 221.78 595.53 221.35 596.9 221.86C598.26 222.37 599.79 223.99 600.98 225.44C602.18 226.89 603.2 228.84 604.05 230.55C604.9 232.25 604.73 233.61 606.09 235.66C607.46 237.7 611.2 241.62 612.22 242.81"/>
<path d="M588.72 225.44C588.64 226.29 588.04 228.84 588.21 230.55C588.38 232.25 589.15 234.12 589.74 235.66C590.34 237.19 590.77 239.23 591.79 239.74C592.81 240.25 594.51 238.72 595.87 238.72C597.24 238.72 599.28 239.57 599.96 239.74"/>
<path d="M567.77 233.61C568.2 234.12 569.99 235.83 570.33 236.68C570.67 237.53 569.9 238.38 569.82 238.72"/>
<path d="M579.52 229.52C580.04 230.38 582.16 232.93 582.59 234.63C583.02 236.34 582.59 238.47 582.08 239.74C581.57 241.02 580.63 242.3 579.52 242.3C578.42 242.3 577.23 239.32 575.44 239.74C573.65 240.17 569.9 244 568.8 244.85"/>
<path d="M593.83 231.57C593.92 232.25 593.66 234.55 594.34 235.66C595.02 236.76 596.3 237.36 597.92 238.21C599.54 239.06 602.01 239.83 604.05 240.77C606.09 241.7 608.56 243.12 610.18 243.83C611.8 244.55 613.16 244.85 613.76 245.06"/>
<path d="M580.55 242.81C581.4 242.64 583.95 241.45 585.66 241.79C587.36 242.13 588.72 243.83 590.77 244.85C592.81 245.87 595.36 246.9 597.92 247.92C600.47 248.94 603.37 249.62 606.09 250.98C608.82 252.35 611.88 254.48 614.27 256.09C616.65 257.71 619.38 259.93 620.4 260.69"/>
<path d="M580.55 242.81C580.46 243.66 579.7 246.22 580.04 247.92C580.38 249.62 582.16 252.18 582.59 253.03"/>
<path d="M585.66 247.92C587.02 248.6 590.94 250.47 593.83 252.01C596.73 253.54 599.96 255.24 603.03 257.12C606.09 258.99 609.84 261.71 612.22 263.25C614.61 264.78 616.48 265.8 617.33 266.31"/>
<path d="M616.31 247.92C616.99 248.26 619.34 248.94 620.4 249.96C621.46 250.98 622.36 252.35 622.65 254.05C622.94 255.75 622.22 259.16 622.14 260.18"/>
<path d="M600.98 238.72C601.32 238.21 602.86 237.02 603.03 235.66C603.2 234.29 602.18 231.4 602.01 230.55"/>
<path d="M620.4 256.09C621.42 256.26 624.49 257.03 626.53 257.12C628.57 257.2 630.45 256.94 632.66 256.6C634.88 256.26 638.62 255.33 639.82 255.07"/>
</g>
<path d="M606.09 210.22C606.95 209.96 611.52 210.44 613.39 210.95C615.27 211.46 620.11 213.49 622.15 214.6C624.2 215.71 629.04 218.91 630.91 220.44C632.79 221.97 636.85 226.03 638.21 227.74C639.57 229.44 641.81 233.33 642.59 235.04C643.37 236.74 644.74 240.63 644.93 242.34C645.11 244.04 644.54 248 644.2 249.64C643.86 251.27 642.67 255.57 642.01 256.35C641.34 257.13 639.37 256.66 638.5 256.35C637.64 256.04 635.96 254.06 634.56 253.72C633.17 253.38 627.81 253.7 626.53 253.43C625.26 253.16 624.04 252.48 623.61 251.39C623.19 250.3 623.39 245.11 622.88 244.09C622.37 243.07 620.14 242.46 619.23 242.63C618.33 242.8 615.83 245.55 615.15 245.55C614.46 245.55 613.67 243.68 613.39 242.63C613.12 241.57 613.05 238.06 612.81 236.5C612.57 234.93 611.62 230.53 611.35 229.2C611.08 227.87 610.99 225.69 610.47 225.11C609.96 224.53 607.28 225.12 606.97 224.23C606.66 223.35 607.95 218.81 607.85 217.52C607.74 216.22 606.3 213.99 606.09 213.14C605.89 212.29 605.24 210.47 606.09 210.22Z" fill="#bebebe" stroke="#555" stroke-width="0.5" filter="url(#b1)"/>
<g fill="none" stroke="#666" stroke-width="0.45">
<path d="M609.31 224.23C609.87 223.36 611.37 220.15 612.66 218.98C613.95 217.81 615.22 217.23 617.04 217.23C618.87 217.23 622.03 217.47 623.61 218.98C625.19 220.49 625.8 224.33 626.53 226.28C627.26 228.22 626.78 229.88 627.99 230.66C629.21 231.44 631.84 230.22 633.83 230.95C635.83 231.68 638.21 233.09 639.96 235.04C641.72 236.98 643.61 241.36 644.34 242.63"/>
<path d="M613.39 211.68C614.37 212.17 617.53 213.67 619.23 214.6C620.94 215.52 622.15 216.01 623.61 217.23C625.07 218.44 626.29 220.15 627.99 221.9C629.7 223.65 632.01 226.16 633.83 227.74C635.66 229.32 638.09 230.78 638.94 231.39"/>
<path d="M619.23 242.63C619.48 241.61 619.72 238.37 620.69 236.5C621.67 234.62 623.86 232.36 625.07 231.39C626.29 230.41 627.51 230.78 627.99 230.66"/>
<path d="M634.56 253.72C634.93 252.8 635.66 249.83 636.75 248.18C637.85 246.52 639.87 244.72 641.13 243.8C642.4 242.87 643.81 242.82 644.34 242.63"/>
</g>
<g fill="#0a0a0a" filter="url(#b1)">
<path d="M613.98 243.8C614.37 243.31 615.63 241.8 616.31 240.88C617 239.95 617.58 239.08 618.07 238.25C618.55 237.42 619.04 236.3 619.23 235.91" stroke="#0a0a0a" stroke-width="2.1" stroke-linecap="round" fill="none"/>
<circle cx="619.96" cy="232.85" r="0.9"/>
<circle cx="622.15" cy="221.17" r="0.9"/>
<circle cx="623.61" cy="235.04" r="0.9"/>
<circle cx="626.24" cy="235.91" r="0.9"/>
<circle cx="629.16" cy="235.04" r="0.9"/>
<circle cx="627.7" cy="229.93" r="0.9"/>
<circle cx="633.54" cy="239.12" r="0.9"/>
<circle cx="634.71" cy="242.34" r="0.9"/>
<circle cx="635.58" cy="240.58" r="0.9"/>
<circle cx="638.94" cy="239.42" r="0.9"/>
<circle cx="623.61" cy="242.63" r="0.9"/>
<circle cx="626.53" cy="247.01" r="0.9"/>
<circle cx="629.16" cy="246.13" r="0.9"/>
<circle cx="627.99" cy="243.8" r="0.9"/>
<circle cx="636.75" cy="249.64" r="0.9"/>
<circle cx="639.38" cy="248.18" r="0.9"/>
<circle cx="625.07" cy="237.23" r="0.9"/>
<circle cx="630.91" cy="236.5" r="0.9"/>
<circle cx="632.96" cy="241.46" r="0.9"/>
<circle cx="636.75" cy="238.25" r="0.9"/>
<circle cx="620.4" cy="235.33" r="0.8"/>
<circle cx="622.15" cy="234.45" r="0.8"/>
<circle cx="623.91" cy="235.91" r="0.8"/>
<circle cx="625.66" cy="234.74" r="0.8"/>
<circle cx="627.41" cy="236.2" r="0.8"/>
<circle cx="629.16" cy="234.45" r="0.8"/>
<circle cx="630.62" cy="233.87" r="0.8"/>
<circle cx="620.99" cy="237.66" r="0.8"/>
<circle cx="623.03" cy="238.25" r="0.8"/>
<path d="M632.37 242.63C632.91 242.04 635.05 239.71 635.58 239.12" stroke="#0a0a0a" stroke-width="1.3" stroke-linecap="round" fill="none"/>
<path d="M632.08 239.42C632.71 239.9 635.24 241.85 635.88 242.34" stroke="#0a0a0a" stroke-width="1.1" stroke-linecap="round" fill="none"/>
<path d="M638.65 239.12C638.65 239.95 638.65 243.26 638.65 244.09" stroke="#0a0a0a" stroke-width="0.5" fill="none"/>
<path d="M635.58 250.36C636.14 250.05 638.38 248.78 638.94 248.47" stroke="#0a0a0a" stroke-width="1" stroke-linecap="round" fill="none"/>
<path d="M625.95 247.59C626.58 247.25 629.11 245.89 629.74 245.55" stroke="#0a0a0a" stroke-width="0.9" stroke-linecap="round" fill="none"/>
</g>
<rect x="585.5" y="297.5" width="46" height="15" fill="#fff" stroke="#727272" stroke-width="1"/>
<rect x="550.5" y="272.5" width="115" height="150" fill="none" stroke="#727272" stroke-width="1"/>
<line x1="550.5" y1="297.5" x2="665.5" y2="297.5" stroke="#727272" stroke-width="1"/>
<text transform="translate(544.8 276.2) scale(1.12 1)" font-size="10" text-anchor="end" font-weight="normal" font-style="normal" fill="#222">0.2</text>
<text transform="translate(544.8 301.2) scale(1.12 1)" font-size="10" text-anchor="end" font-weight="normal" font-style="normal" fill="#222">0</text>
<text transform="translate(544.8 326.2) scale(1.12 1)" font-size="10" text-anchor="end" font-weight="normal" font-style="normal" fill="#222">0.2</text>
<text transform="translate(529.33 326.2) scale(0.8 1)" font-size="10" text-anchor="end" font-weight="normal" font-style="normal" fill="#222">−</text>
<text transform="translate(544.8 351.2) scale(1.12 1)" font-size="10" text-anchor="end" font-weight="normal" font-style="normal" fill="#222">0.4</text>
<text transform="translate(529.33 351.2) scale(0.8 1)" font-size="10" text-anchor="end" font-weight="normal" font-style="normal" fill="#222">−</text>
<text transform="translate(544.8 376.2) scale(1.12 1)" font-size="10" text-anchor="end" font-weight="normal" font-style="normal" fill="#222">0.6</text>
<text transform="translate(529.33 376.2) scale(0.8 1)" font-size="10" text-anchor="end" font-weight="normal" font-style="normal" fill="#222">−</text>
<text transform="translate(544.8 401.2) scale(1.12 1)" font-size="10" text-anchor="end" font-weight="normal" font-style="normal" fill="#222">0.8</text>
<text transform="translate(529.33 401.2) scale(0.8 1)" font-size="10" text-anchor="end" font-weight="normal" font-style="normal" fill="#222">−</text>
<text transform="translate(544.8 426.2) scale(1.12 1)" font-size="10" text-anchor="end" font-weight="normal" font-style="normal" fill="#222">1</text>
<text transform="translate(538.67 426.2) scale(0.8 1)" font-size="10" text-anchor="end" font-weight="normal" font-style="normal" fill="#222">−</text>
<path d="M550.5 322.5h3M550.5 347.5h3M550.5 372.5h3M550.5 397.5h3M608.3 422.5v-3" stroke="#727272" stroke-width="0.8" fill="none"/>
<g fill="none" stroke="#555" stroke-width="0.55">
<circle cx="608.3" cy="288.95" r="2"/>
<circle cx="608.3" cy="291.58" r="2"/>
<circle cx="608.3" cy="297.63" r="2"/>
<circle cx="608.3" cy="306.84" r="2"/>
<circle cx="608.3" cy="308.68" r="2"/>
<circle cx="608.3" cy="310.53" r="2"/>
<circle cx="608.3" cy="319.21" r="2"/>
<circle cx="608.3" cy="321.32" r="2"/>
<circle cx="608.3" cy="323.68" r="2"/>
<circle cx="608.3" cy="325.79" r="2"/>
<circle cx="608.3" cy="327.89" r="2"/>
<circle cx="608.3" cy="329.74" r="2"/>
</g>
<text transform="translate(514.2 347.4) rotate(-90)" font-size="12" text-anchor="middle" fill="#222" textLength="22.5" lengthAdjust="spacingAndGlyphs">Rho</text>
<text transform="translate(662.4 416.6) scale(1.04 1)" font-size="10" text-anchor="end" fill="#222"><tspan font-style="italic">P</tspan> = 0.005</text>
<text transform="translate(11.9 456.6) scale(1.16 1)" font-size="17.6" font-weight="bold" text-anchor="end" fill="#000" stroke="#000" stroke-width="0.55" stroke-linejoin="round">d</text>
<text x="24.9" y="456.6" font-size="14.3" text-anchor="start" font-weight="normal" font-style="normal" fill="#222" textLength="78.4" lengthAdjust="spacingAndGlyphs">Item stability</text>
<text transform="translate(491.8 456.7) scale(1.16 1)" font-size="17.6" font-weight="bold" text-anchor="end" fill="#000" stroke="#000" stroke-width="0.55" stroke-linejoin="round">e</text>
<text x="504.1" y="456.6" font-size="14.3" text-anchor="start" font-weight="normal" font-style="normal" fill="#222" textLength="115.7" lengthAdjust="spacingAndGlyphs">Context specificity</text>
<g filter="url(#b1)">
<path d="M115.19 476.98C116.13 476.45 117.8 476.34 118.61 476.71C119.42 477.09 119.92 478.03 120.05 479.21C120.18 480.39 120.12 482.28 119.4 483.81C118.67 485.34 117.16 486.61 115.72 488.41C114.27 490.21 112.26 492.29 110.72 494.59C109.19 496.89 108.23 499.97 106.52 502.21C104.81 504.44 101.92 507.29 100.47 507.99C99.03 508.69 97.89 507.95 97.85 506.41C97.8 504.88 99.42 501.16 100.21 498.79C101 496.43 101.22 494.41 102.58 492.22C103.93 490.03 106.63 487.71 108.36 485.65C110.09 483.59 111.82 481.31 112.96 479.87C114.1 478.42 114.25 477.5 115.19 476.98Z" fill="#a0a2a1"/>
<path d="M93.64 491.96C94.69 491.26 96.49 490.75 97.58 491.04C98.68 491.32 99.71 492.46 100.21 493.67C100.71 494.87 100.65 496.62 100.61 498.27C100.56 499.91 100.45 501.84 99.95 503.52C99.44 505.21 98.63 507.29 97.58 508.38C96.53 509.48 94.91 510.09 93.64 510.09C92.37 510.09 90.95 509.48 89.96 508.38C88.98 507.29 87.95 505.1 87.73 503.52C87.51 501.94 88.06 500.3 88.65 498.92C89.24 497.54 90.44 496.4 91.28 495.24C92.11 494.08 92.59 492.66 93.64 491.96Z" fill="#ff6668"/>
<path d="M94.3 493.27C95.13 492.79 96.75 492.46 97.58 492.75C98.42 493.03 98.98 494.02 99.29 494.98C99.6 495.94 99.53 497.15 99.42 498.53C99.31 499.91 99.16 501.86 98.63 503.26C98.11 504.66 97.1 506.11 96.27 506.94C95.44 507.77 94.43 508.34 93.64 508.25C92.85 508.16 92.11 507.29 91.54 506.41C90.97 505.54 90.22 504.31 90.22 503C90.22 501.68 91.14 499.75 91.54 498.53C91.93 497.3 92.13 496.51 92.59 495.64C93.05 494.76 93.47 493.75 94.3 493.27Z" fill="#ff4a4e"/>
<path d="M137 474.88C138.14 473.89 140.4 473.67 142.26 473.96C144.12 474.24 146.53 475.16 148.17 476.58C149.82 478.01 151.28 480.42 152.12 482.5C152.95 484.58 153.45 486.66 153.17 489.07C152.88 491.48 151.79 494.1 150.41 496.95C149.03 499.8 146.9 503.3 144.89 506.15C142.87 509 140.46 511.95 138.32 514.03C136.17 516.11 133.83 517.76 132.01 518.63C130.19 519.51 128.33 520.06 127.41 519.29C126.49 518.52 126.16 516.66 126.49 514.03C126.82 511.41 128.73 506.11 129.38 503.52C130.04 500.94 129.82 499.62 130.43 498.53C131.05 497.43 132.23 497.76 133.06 496.95C133.89 496.14 135.12 495.2 135.43 493.67C135.73 492.13 134.9 490.05 134.9 487.75C134.9 485.45 135.08 482.02 135.43 479.87C135.78 477.72 135.87 475.86 137 474.88Z" fill="#a0a2a1"/>
<path d="M137 496.95C138.71 495.2 140.73 494.32 142.26 494.32C143.79 494.32 146.2 494.98 146.2 496.95C146.2 498.92 144.01 503.3 142.26 506.15C140.51 509 137.55 512.17 135.69 514.03C133.83 515.9 132.14 517.32 131.09 517.32C130.04 517.32 129.23 516.11 129.38 514.03C129.54 511.95 130.74 507.68 132.01 504.84C133.28 501.99 135.3 498.7 137 496.95Z" fill="#939594" opacity="0.8" filter="url(#b3)"/>
<path d="M139.63 478.55C140.62 476.91 144.34 477.02 146.2 477.9C148.06 478.77 150.15 481.51 150.8 483.81C151.46 486.11 151.13 490.27 150.15 491.7C149.16 493.12 146.53 493.01 144.89 492.35C143.25 491.7 141.17 490.05 140.29 487.75C139.41 485.45 138.65 480.2 139.63 478.55Z" fill="#a9abaa" opacity="0.8" filter="url(#b3)"/>
<path d="M117.95 494.59C119.57 494.08 122.11 493.75 123.86 493.93C125.62 494.1 127.35 494.81 128.46 495.64C129.58 496.47 130.32 497.17 130.57 498.92C130.81 500.67 130.24 503.63 129.91 506.15C129.58 508.67 129.25 511.63 128.59 514.03C127.94 516.44 127.19 519.01 125.97 520.6C124.74 522.2 122.68 523.41 121.24 523.63C119.79 523.85 118.61 523.08 117.29 521.92C115.98 520.76 114.49 518.41 113.35 516.66C112.21 514.91 111.1 513.16 110.46 511.41C109.83 509.65 109.39 507.9 109.54 506.15C109.69 504.4 110.61 502.43 111.38 500.89C112.15 499.36 113.04 498 114.14 496.95C115.23 495.9 116.33 495.09 117.95 494.59Z" fill="#ff6668"/>
<path d="M118.87 496.16C120.18 495.68 122.42 495.46 123.86 495.64C125.31 495.81 126.71 496.51 127.54 497.21C128.38 497.92 128.73 498.31 128.86 499.84C128.99 501.38 128.64 504.14 128.33 506.41C128.03 508.69 127.63 511.36 127.02 513.51C126.4 515.65 125.62 517.93 124.65 519.29C123.69 520.65 122.29 521.48 121.24 521.66C120.18 521.83 119.31 521.26 118.34 520.34C117.38 519.42 116.02 517.58 115.45 516.14C114.88 514.69 115.28 513.16 114.93 511.67C114.58 510.18 113.35 508.73 113.35 507.2C113.35 505.67 114.49 503.92 114.93 502.47C115.37 501.03 115.32 499.58 115.98 498.53C116.64 497.48 117.56 496.64 118.87 496.16Z" fill="#ff4a4e"/>
</g>
<g filter="url(#b1)">
<path d="M336.52 488.34C337.83 487.44 340.35 487.44 341.51 488.08C342.67 488.71 343.26 490.05 343.48 492.15C343.7 494.25 343.26 498.44 342.82 500.69C342.39 502.95 341.77 504.61 340.85 505.69C339.93 506.76 338.51 507.18 337.31 507.13C336.1 507.09 334.63 506.28 333.63 505.42C332.62 504.57 331.66 503.34 331.26 502.01C330.87 500.67 330.87 498.83 331.26 497.41C331.66 495.98 332.75 494.98 333.63 493.47C334.5 491.96 335.2 489.24 336.52 488.34Z" fill="#989a99"/>
<path d="M359.91 491.5C361.62 490.93 364.68 490.53 366.48 490.71C368.27 490.88 369.7 491.32 370.68 492.55C371.67 493.77 372.33 495.39 372.39 498.07C372.46 500.74 371.8 505.51 371.08 508.58C370.35 511.64 368.93 514.67 368.05 516.46C367.18 518.26 366.85 518.72 365.82 519.35C364.79 519.99 363.08 520.49 361.88 520.27C360.67 520.05 359.69 519.33 358.59 518.04C357.5 516.75 356.23 514.54 355.31 512.52C354.39 510.51 353.4 508.14 353.07 505.95C352.75 503.76 352.81 501.35 353.34 499.38C353.86 497.41 355.13 495.44 356.23 494.12C357.32 492.81 358.2 492.06 359.91 491.5Z" fill="#989a99"/>
<path d="M357.94 473.76C359.03 473.08 360.41 473.08 361.22 473.62C362.03 474.17 362.69 475.81 362.8 477.04C362.91 478.27 362.58 479.56 361.88 480.98C361.18 482.41 359.91 483.94 358.59 485.58C357.28 487.22 355.42 489.31 353.99 490.84C352.57 492.37 350.93 493.47 350.05 494.78C349.18 496.09 349.72 497.3 348.74 498.72C347.75 500.15 345.52 502.2 344.14 503.32C342.76 504.44 341.47 505.53 340.46 505.42C339.45 505.31 338.49 504 338.09 502.66C337.7 501.33 337.74 499.16 338.09 497.41C338.44 495.66 339.19 493.69 340.2 492.15C341.2 490.62 342.5 489.74 344.14 488.21C345.78 486.68 348.3 484.71 350.05 482.95C351.8 481.2 353.34 479.23 354.65 477.7C355.97 476.16 356.84 474.43 357.94 473.76Z" fill="#ff6366"/>
<path d="M379.62 471.78C380.82 470.78 383.12 470.67 384.87 471C386.63 471.32 388.6 472.31 390.13 473.76C391.66 475.2 393.18 477.59 394.07 479.67C394.97 481.75 395.72 483.83 395.52 486.24C395.32 488.65 394.23 491.28 392.89 494.12C391.55 496.97 389.5 500.58 387.5 503.32C385.51 506.06 383.12 508.67 380.93 510.55C378.74 512.43 376.55 513.62 374.36 514.62C372.17 515.63 369.72 516.4 367.79 516.59C365.86 516.79 364.2 516.7 362.8 515.81C361.4 514.91 360.3 512.85 359.38 511.21C358.46 509.56 357.52 507.7 357.28 505.95C357.04 504.2 357.5 502.34 357.94 500.69C358.37 499.05 358.92 497.28 359.91 496.09C360.89 494.91 362.1 494.01 363.85 493.6C365.6 493.18 368.6 493.38 370.42 493.6C372.24 493.82 373.66 495.48 374.76 494.91C375.85 494.34 376.53 492.06 376.99 490.18C377.45 488.3 377.41 485.8 377.52 483.61C377.63 481.42 377.3 479.01 377.65 477.04C378 475.07 378.41 472.79 379.62 471.78Z" fill="#ff6366"/>
</g>
<g fill="none" stroke="#cdcdcd" stroke-width="0.55">
<path d="M609.5 466.51C608.57 466.22 606.01 465.29 603.88 464.78C601.76 464.27 598.95 463.36 596.73 463.45C594.52 463.53 592.13 464.47 590.6 465.29C589.07 466.1 588.9 467.42 587.53 468.35C586.17 469.29 583.96 469.72 582.42 470.91C580.89 472.1 579.87 473.89 578.34 475.51C576.8 477.12 574.59 479.08 573.23 480.62C571.87 482.15 570.59 483.17 570.16 484.7C569.74 486.24 571.35 488.28 570.67 489.81C569.99 491.35 567.18 492.2 566.07 493.9C564.97 495.6 564.29 497.82 564.03 500.03C563.78 502.25 564.17 505.65 564.54 507.18C564.92 508.72 565.17 508.89 566.28 509.23C567.39 509.57 569.17 509.02 571.18 509.23C573.19 509.43 576.29 510.45 578.34 510.45C580.38 510.45 581.74 508.92 583.45 509.23C585.15 509.53 586.34 511.1 588.56 512.29C590.77 513.49 594.18 515.02 596.73 516.38C599.29 517.74 601.5 519.19 603.88 520.47C606.27 521.75 608.48 523.33 611.04 524.04C613.59 524.76 617 525.32 619.21 524.76C621.43 524.2 623.35 522.07 624.32 520.67C625.29 519.28 625.21 517.78 625.04 516.38C624.87 514.98 624.1 514 623.3 512.29C622.5 510.59 620.74 507.18 620.23 506.16"/>
<path d="M588.56 467.84C589.24 468.18 591.45 469.29 592.64 469.89C593.84 470.48 595.03 471.84 595.71 471.42C596.39 470.99 596.48 468.52 596.73 467.33C596.99 466.14 597.16 464.78 597.24 464.27"/>
<path d="M599.8 465.29C600.14 466.14 600.82 468.86 601.84 470.4C602.86 471.93 604.74 473.12 605.93 474.48C607.12 475.85 607.8 477.52 608.99 478.57C610.19 479.63 612.4 480.45 613.08 480.82"/>
<path d="M578.34 476.02C579.02 476.27 580.89 477.12 582.42 477.55C583.96 477.98 586 477.89 587.53 478.57C589.07 479.25 590.26 481.64 591.62 481.64C592.98 481.64 594.35 479.17 595.71 478.57C597.07 477.98 598.43 477.55 599.8 478.06C601.16 478.57 602.69 480.19 603.88 481.64C605.08 483.09 606.1 485.04 606.95 486.75C607.8 488.45 607.63 489.81 608.99 491.86C610.36 493.9 614.1 497.82 615.12 499.01"/>
<path d="M591.62 481.64C591.54 482.49 590.94 485.04 591.11 486.75C591.28 488.45 592.05 490.32 592.64 491.86C593.24 493.39 593.67 495.43 594.69 495.94C595.71 496.45 597.41 494.92 598.77 494.92C600.14 494.92 602.18 495.77 602.86 495.94"/>
<path d="M570.67 489.81C571.1 490.32 572.89 492.03 573.23 492.88C573.57 493.73 572.8 494.58 572.72 494.92"/>
<path d="M582.42 485.72C582.94 486.58 585.06 489.13 585.49 490.83C585.92 492.54 585.49 494.67 584.98 495.94C584.47 497.22 583.53 498.5 582.42 498.5C581.32 498.5 580.13 495.52 578.34 495.94C576.55 496.37 572.8 500.2 571.7 501.05"/>
<path d="M596.73 487.77C596.82 488.45 596.56 490.75 597.24 491.86C597.92 492.96 599.2 493.56 600.82 494.41C602.44 495.26 604.91 496.03 606.95 496.97C608.99 497.9 611.46 499.32 613.08 500.03C614.7 500.75 616.06 501.05 616.66 501.26"/>
<path d="M583.45 499.01C584.3 498.84 586.85 497.65 588.56 497.99C590.26 498.33 591.62 500.03 593.67 501.05C595.71 502.07 598.26 503.1 600.82 504.12C603.37 505.14 606.27 505.82 608.99 507.18C611.72 508.55 614.78 510.68 617.17 512.29C619.55 513.91 622.28 516.13 623.3 516.89"/>
<path d="M583.45 499.01C583.36 499.86 582.6 502.42 582.94 504.12C583.28 505.82 585.06 508.38 585.49 509.23"/>
<path d="M588.56 504.12C589.92 504.8 593.84 506.67 596.73 508.21C599.63 509.74 602.86 511.44 605.93 513.32C608.99 515.19 612.74 517.91 615.12 519.45C617.51 520.98 619.38 522 620.23 522.51"/>
<path d="M619.21 504.12C619.89 504.46 622.24 505.14 623.3 506.16C624.36 507.18 625.26 508.55 625.55 510.25C625.84 511.95 625.12 515.36 625.04 516.38"/>
<path d="M603.88 494.92C604.22 494.41 605.76 493.22 605.93 491.86C606.1 490.49 605.08 487.6 604.91 486.75"/>
<path d="M623.3 512.29C624.32 512.46 627.39 513.23 629.43 513.32C631.47 513.4 633.35 513.14 635.56 512.8C637.78 512.46 641.52 511.53 642.72 511.27"/>
</g>
<path d="M608.99 466.42C609.85 466.16 614.42 466.64 616.29 467.15C618.17 467.66 623.01 469.69 625.05 470.8C627.1 471.91 631.94 475.11 633.81 476.64C635.69 478.17 639.75 482.23 641.11 483.94C642.47 485.64 644.71 489.53 645.49 491.24C646.27 492.94 647.64 496.83 647.83 498.54C648.01 500.24 647.44 504.2 647.1 505.84C646.76 507.47 645.57 511.77 644.91 512.55C644.24 513.33 642.27 512.86 641.4 512.55C640.54 512.24 638.86 510.26 637.46 509.92C636.07 509.58 630.71 509.9 629.43 509.63C628.16 509.36 626.94 508.68 626.51 507.59C626.09 506.5 626.29 501.31 625.78 500.29C625.27 499.27 623.04 498.66 622.13 498.83C621.23 499 618.73 501.75 618.05 501.75C617.36 501.75 616.57 499.88 616.29 498.83C616.02 497.77 615.95 494.26 615.71 492.7C615.47 491.13 614.52 486.73 614.25 485.4C613.98 484.07 613.89 481.89 613.37 481.31C612.86 480.73 610.18 481.32 609.87 480.43C609.56 479.55 610.85 475.01 610.75 473.72C610.64 472.42 609.2 470.19 608.99 469.34C608.79 468.49 608.14 466.67 608.99 466.42Z" fill="#bebebe" stroke="#555" stroke-width="0.5" filter="url(#b1)"/>
<g fill="none" stroke="#666" stroke-width="0.45">
<path d="M612.21 480.43C612.77 479.56 614.27 476.35 615.56 475.18C616.85 474.01 618.12 473.43 619.94 473.43C621.77 473.43 624.93 473.67 626.51 475.18C628.09 476.69 628.7 480.53 629.43 482.48C630.16 484.42 629.68 486.08 630.89 486.86C632.11 487.64 634.74 486.42 636.73 487.15C638.73 487.88 641.11 489.29 642.86 491.24C644.62 493.18 646.51 497.56 647.24 498.83"/>
<path d="M616.29 467.88C617.27 468.37 620.43 469.87 622.13 470.8C623.84 471.72 625.05 472.21 626.51 473.43C627.97 474.64 629.19 476.35 630.89 478.1C632.6 479.85 634.91 482.36 636.73 483.94C638.56 485.52 640.99 486.98 641.84 487.59"/>
<path d="M622.13 498.83C622.38 497.81 622.62 494.57 623.59 492.7C624.57 490.82 626.76 488.56 627.97 487.59C629.19 486.61 630.41 486.98 630.89 486.86"/>
<path d="M637.46 509.92C637.83 509 638.56 506.03 639.65 504.38C640.75 502.72 642.77 500.92 644.03 500C645.3 499.07 646.71 499.02 647.24 498.83"/>
</g>
<g fill="#0a0a0a" filter="url(#b1)">
<path d="M616.88 500C617.27 499.51 618.53 498 619.21 497.08C619.9 496.15 620.48 495.28 620.97 494.45C621.45 493.62 621.94 492.5 622.13 492.11" stroke="#0a0a0a" stroke-width="2.1" stroke-linecap="round" fill="none"/>
<circle cx="622.86" cy="489.05" r="0.9"/>
<circle cx="625.05" cy="477.37" r="0.9"/>
<circle cx="626.51" cy="491.24" r="0.9"/>
<circle cx="629.14" cy="492.11" r="0.9"/>
<circle cx="632.06" cy="491.24" r="0.9"/>
<circle cx="630.6" cy="486.13" r="0.9"/>
<circle cx="636.44" cy="495.32" r="0.9"/>
<circle cx="637.61" cy="498.54" r="0.9"/>
<circle cx="638.48" cy="496.78" r="0.9"/>
<circle cx="641.84" cy="495.62" r="0.9"/>
<circle cx="626.51" cy="498.83" r="0.9"/>
<circle cx="629.43" cy="503.21" r="0.9"/>
<circle cx="632.06" cy="502.33" r="0.9"/>
<circle cx="630.89" cy="500" r="0.9"/>
<circle cx="639.65" cy="505.84" r="0.9"/>
<circle cx="642.28" cy="504.38" r="0.9"/>
<circle cx="627.97" cy="493.43" r="0.9"/>
<circle cx="633.81" cy="492.7" r="0.9"/>
<circle cx="635.86" cy="497.66" r="0.9"/>
<circle cx="639.65" cy="494.45" r="0.9"/>
<circle cx="623.3" cy="491.53" r="0.8"/>
<circle cx="625.05" cy="490.65" r="0.8"/>
<circle cx="626.81" cy="492.11" r="0.8"/>
<circle cx="628.56" cy="490.94" r="0.8"/>
<circle cx="630.31" cy="492.4" r="0.8"/>
<circle cx="632.06" cy="490.65" r="0.8"/>
<circle cx="633.52" cy="490.07" r="0.8"/>
<circle cx="623.89" cy="493.86" r="0.8"/>
<circle cx="625.93" cy="494.45" r="0.8"/>
<path d="M635.27 498.83C635.81 498.24 637.95 495.91 638.48 495.32" stroke="#0a0a0a" stroke-width="1.3" stroke-linecap="round" fill="none"/>
<path d="M634.98 495.62C635.61 496.1 638.14 498.05 638.78 498.54" stroke="#0a0a0a" stroke-width="1.1" stroke-linecap="round" fill="none"/>
<path d="M641.55 495.32C641.55 496.15 641.55 499.46 641.55 500.29" stroke="#0a0a0a" stroke-width="0.5" fill="none"/>
<path d="M638.48 506.56C639.04 506.25 641.28 504.98 641.84 504.67" stroke="#0a0a0a" stroke-width="1" stroke-linecap="round" fill="none"/>
<path d="M628.85 503.79C629.48 503.45 632.01 502.09 632.64 501.75" stroke="#0a0a0a" stroke-width="0.9" stroke-linecap="round" fill="none"/>
</g>
<clipPath id="c1"><rect x="47.1" y="526.6" width="157" height="124.1"/></clipPath>
<g clip-path="url(#c1)">
<path d="M51.17 571.13C52.41 571.83 56 573.9 58.61 575.35C61.22 576.79 64.73 579.07 66.8 579.81C68.87 580.56 69.28 580.31 71.02 579.81C72.75 579.32 75.57 577.17 77.22 576.84C78.88 576.51 79.7 577.83 80.94 577.83C82.18 577.83 83.42 576.84 84.67 576.84C85.91 576.84 87.15 577.83 88.39 577.83C89.63 577.83 90.87 576.84 92.11 576.84C93.35 576.84 94.59 577.79 95.83 577.83C97.07 577.87 98.31 577.04 99.55 577.08C100.79 577.13 102.03 577.91 103.28 578.08C104.52 578.24 105.55 577.79 107 578.08C108.44 578.37 109.89 578.61 111.96 579.81C114.03 581.01 116.92 583 119.4 585.27C121.89 587.55 124.37 590.44 126.85 593.46C129.33 596.48 131.81 599.87 134.29 603.39C136.77 606.9 139.26 610.96 141.74 614.55C144.22 618.15 146.7 622.08 149.18 624.98C151.66 627.87 154.14 630.35 156.63 631.92C159.11 633.49 162 633.91 164.07 634.4C166.14 634.9 167.17 635.52 169.03 634.9C170.89 634.28 172.96 633.25 175.24 630.68C177.51 628.12 180.2 623.24 182.68 619.52C185.16 615.79 187.64 611.99 190.12 608.35C192.61 604.71 195.09 600.86 197.57 597.68C200.05 594.5 203.77 590.65 205.01 589.24L205.01 602.89C203.77 604.42 200.05 608.68 197.57 612.07C195.09 615.46 192.61 619.43 190.12 623.24C187.64 627.04 185.16 630.97 182.68 634.9C180.2 638.83 177.51 644.21 175.24 646.81C172.96 649.42 170.89 650 169.03 650.53C167.17 651.07 166.14 650.74 164.07 650.04C162 649.33 159.11 648.18 156.63 646.32C154.14 644.45 151.66 642.01 149.18 638.87C146.7 635.73 144.22 631.3 141.74 627.46C139.26 623.61 136.77 619.6 134.29 615.79C131.81 611.99 129.33 607.94 126.85 604.63C124.37 601.32 121.89 598.42 119.4 595.94C116.92 593.46 114.03 591.06 111.96 589.74C109.89 588.42 108.44 588.25 107 588C105.55 587.75 104.52 588.33 103.28 588.25C102.03 588.17 100.79 587.46 99.55 587.51C98.31 587.55 97.07 588.5 95.83 588.5C94.59 588.5 93.35 587.51 92.11 587.51C90.87 587.51 89.63 588.5 88.39 588.5C87.15 588.5 85.91 587.55 84.67 587.51C83.42 587.46 82.18 588.29 80.94 588.25C79.7 588.21 78.88 586.93 77.22 587.26C75.57 587.59 72.75 589.62 71.02 590.24C69.28 590.86 68.87 591.56 66.8 590.98C64.73 590.4 61.22 588.13 58.61 586.76C56 585.4 52.41 583.45 51.17 582.79Z" fill="#a9c6be"/>
<path d="M51.17 576.84C52.41 577.54 56 579.65 58.61 581.05C61.22 582.46 64.73 584.65 66.8 585.27C68.87 585.89 69.28 585.36 71.02 584.78C72.75 584.2 75.57 582.17 77.22 581.8C78.88 581.43 79.7 582.5 80.94 582.54C82.18 582.58 83.42 582.01 84.67 582.05C85.91 582.09 87.15 582.75 88.39 582.79C89.63 582.83 90.87 582.25 92.11 582.3C93.35 582.34 94.59 583.04 95.83 583.04C97.07 583.04 98.31 582.3 99.55 582.3C100.79 582.3 102.03 582.92 103.28 583.04C104.52 583.16 105.55 582.75 107 583.04C108.44 583.33 109.89 583.58 111.96 584.78C114.03 585.98 116.92 587.84 119.4 590.24C121.89 592.63 124.37 595.94 126.85 599.17C129.33 602.39 131.81 605.99 134.29 609.59C136.77 613.19 139.26 617.03 141.74 620.76C144.22 624.48 146.7 628.9 149.18 631.92C151.66 634.94 154.14 637.22 156.63 638.87C159.11 640.53 162 641.27 164.07 641.85C166.14 642.43 167.17 642.97 169.03 642.34C170.89 641.72 172.96 640.69 175.24 638.13C177.51 635.56 180.2 630.68 182.68 626.96C185.16 623.24 187.64 619.52 190.12 615.79C192.61 612.07 195.09 607.81 197.57 604.63C200.05 601.44 203.77 598.01 205.01 596.69" fill="none" stroke="#76a095" stroke-width="0.6"/>
</g>
<line x1="59.1" y1="569.7" x2="205" y2="569.7" stroke="#29b4ea" stroke-width="2.4"/>
<line x1="47.1" y1="568.1" x2="204.1" y2="568.1" stroke="#303030" stroke-width="0.9" stroke-dasharray="7.3 2.6"/>
<line x1="66.6" y1="526.6" x2="66.6" y2="650.7" stroke="#303030" stroke-width="0.9" stroke-dasharray="7.3 2.6"/>
<rect x="47.1" y="526.6" width="157" height="124.1" fill="none" stroke="#9a9a9a" stroke-width="1.3"/>
<text transform="translate(41.4 530.1) scale(1.12 1)" font-size="10" text-anchor="end" font-weight="normal" font-style="normal" fill="#222">0.2</text>
<text transform="translate(41.4 571.35) scale(1.12 1)" font-size="10" text-anchor="end" font-weight="normal" font-style="normal" fill="#222">0</text>
<text transform="translate(41.4 612.6) scale(1.12 1)" font-size="10" text-anchor="end" font-weight="normal" font-style="normal" fill="#222">0.2</text>
<text transform="translate(25.93 612.6) scale(0.8 1)" font-size="10" text-anchor="end" font-weight="normal" font-style="normal" fill="#222">−</text>
<text transform="translate(41.4 653.85) scale(1.12 1)" font-size="10" text-anchor="end" font-weight="normal" font-style="normal" fill="#222">0.4</text>
<text transform="translate(25.93 653.85) scale(0.8 1)" font-size="10" text-anchor="end" font-weight="normal" font-style="normal" fill="#222">−</text>
<text transform="translate(66.6 664.1) scale(1.12 1)" font-size="10" text-anchor="middle" font-weight="normal" font-style="normal" fill="#222">0</text>
<text transform="translate(105.95 664.1) scale(1.12 1)" font-size="10" text-anchor="middle" font-weight="normal" font-style="normal" fill="#222">0.5</text>
<text transform="translate(145.3 664.1) scale(1.12 1)" font-size="10" text-anchor="middle" font-weight="normal" font-style="normal" fill="#222">1.0</text>
<text transform="translate(184.65 664.1) scale(1.12 1)" font-size="10" text-anchor="middle" font-weight="normal" font-style="normal" fill="#222">1.5</text>
<path d="M47.1 567.85h3.6M47.1 609.1h3.6M66.6 650.7v-2.5M105.95 650.7v-2.5M145.3 650.7v-2.5M184.65 650.7v-2.5" stroke="#6a6a6a" stroke-width="1" fill="none"/>
<text transform="translate(11 588.4) rotate(-90)" font-size="12" text-anchor="middle" fill="#222" textLength="22.5" lengthAdjust="spacingAndGlyphs">Rho</text>
<text x="125.5" y="682.3" font-size="12.4" text-anchor="middle" font-weight="normal" font-style="normal" fill="#222" textLength="44" lengthAdjust="spacingAndGlyphs">Time (s)</text>
<clipPath id="c2"><rect x="289.8" y="526.6" width="157.4" height="124.1"/></clipPath>
<g clip-path="url(#c2)">
<path d="M294.43 560.35C295.75 559.64 299.89 556.96 302.37 556.13C304.85 555.3 306.63 555.67 309.32 555.38C312.01 555.1 315.52 553.85 318.5 554.39C321.48 554.93 324.08 557.37 327.18 558.61C330.29 559.85 334.21 560.8 337.11 561.84C340 562.87 341.66 562.87 344.55 564.81C347.45 566.76 351.58 570.81 354.48 573.5C357.37 576.19 359.44 579.29 361.92 580.94C364.4 582.6 366.89 582.8 369.37 583.42C371.85 584.04 373.92 584.46 376.81 584.67C379.71 584.87 383.43 584.04 386.74 584.67C390.05 585.29 393.35 586.94 396.66 588.39C399.97 589.83 403.69 592.4 406.59 593.35C409.48 594.3 411.55 594.09 414.03 594.09C416.51 594.09 419 594.09 421.48 593.35C423.96 592.61 426.44 591.7 428.92 589.63C431.4 587.56 433.88 583.63 436.36 580.94C438.85 578.25 441.87 575.53 443.81 573.5C445.75 571.47 447.32 569.57 448.03 568.78L448.03 583.67C447.32 584.25 445.75 585.24 443.81 587.15C441.87 589.05 438.85 592.61 436.36 595.09C433.88 597.57 431.4 600.46 428.92 602.03C426.44 603.61 423.96 604.02 421.48 604.52C419 605.01 416.51 605.14 414.03 605.01C411.55 604.89 409.48 604.76 406.59 603.77C403.69 602.78 399.97 600.38 396.66 599.06C393.35 597.73 390.05 596.49 386.74 595.83C383.43 595.17 379.71 595.29 376.81 595.09C373.92 594.88 371.85 595.29 369.37 594.59C366.89 593.89 364.4 592.52 361.92 590.87C359.44 589.21 357.37 587.02 354.48 584.67C351.58 582.31 347.45 578.59 344.55 576.72C341.66 574.86 340 574.45 337.11 573.5C334.21 572.55 330.29 571.84 327.18 571.02C324.08 570.19 321.48 568.74 318.5 568.54C315.52 568.33 312.01 569.16 309.32 569.78C306.63 570.4 304.85 571.1 302.37 572.26C299.89 573.42 295.75 575.98 294.43 576.72Z" fill="#a9c6be"/>
<path d="M294.43 567.79C295.75 567.09 299.89 564.48 302.37 563.57C304.85 562.66 306.63 562.62 309.32 562.33C312.01 562.04 315.52 561.42 318.5 561.84C321.48 562.25 324.08 563.9 327.18 564.81C330.29 565.72 334.21 566.26 337.11 567.3C340 568.33 341.66 569.03 344.55 571.02C347.45 573 351.58 576.72 354.48 579.21C357.37 581.69 359.44 584.25 361.92 585.91C364.4 587.56 366.89 588.51 369.37 589.13C371.85 589.75 373.92 589.42 376.81 589.63C379.71 589.83 383.43 589.75 386.74 590.37C390.05 590.99 393.35 592.03 396.66 593.35C399.97 594.67 403.69 597.28 406.59 598.31C409.48 599.35 411.55 599.43 414.03 599.55C416.51 599.68 419 599.68 421.48 599.06C423.96 598.44 426.44 597.73 428.92 595.83C431.4 593.93 433.88 590.33 436.36 587.64C438.85 584.95 441.87 581.73 443.81 579.7C445.75 577.68 447.32 576.19 448.03 575.48" fill="none" stroke="#76a095" stroke-width="0.6"/>
</g>
<line x1="357" y1="569.7" x2="439.3" y2="569.7" stroke="#29b4ea" stroke-width="2.4"/>
<line x1="289.8" y1="568.1" x2="447.2" y2="568.1" stroke="#303030" stroke-width="0.9" stroke-dasharray="7.3 2.6"/>
<line x1="309.3" y1="526.6" x2="309.3" y2="650.7" stroke="#303030" stroke-width="0.9" stroke-dasharray="7.3 2.6"/>
<rect x="289.8" y="526.6" width="157.4" height="124.1" fill="none" stroke="#9a9a9a" stroke-width="1.3"/>
<text transform="translate(284.1 530.1) scale(1.12 1)" font-size="10" text-anchor="end" font-weight="normal" font-style="normal" fill="#222">0.2</text>
<text transform="translate(284.1 571.35) scale(1.12 1)" font-size="10" text-anchor="end" font-weight="normal" font-style="normal" fill="#222">0</text>
<text transform="translate(284.1 612.6) scale(1.12 1)" font-size="10" text-anchor="end" font-weight="normal" font-style="normal" fill="#222">0.2</text>
<text transform="translate(268.63 612.6) scale(0.8 1)" font-size="10" text-anchor="end" font-weight="normal" font-style="normal" fill="#222">−</text>
<text transform="translate(284.1 653.85) scale(1.12 1)" font-size="10" text-anchor="end" font-weight="normal" font-style="normal" fill="#222">0.4</text>
<text transform="translate(268.63 653.85) scale(0.8 1)" font-size="10" text-anchor="end" font-weight="normal" font-style="normal" fill="#222">−</text>
<text transform="translate(309.3 664.1) scale(1.12 1)" font-size="10" text-anchor="middle" font-weight="normal" font-style="normal" fill="#222">0</text>
<text transform="translate(348.65 664.1) scale(1.12 1)" font-size="10" text-anchor="middle" font-weight="normal" font-style="normal" fill="#222">0.5</text>
<text transform="translate(388 664.1) scale(1.12 1)" font-size="10" text-anchor="middle" font-weight="normal" font-style="normal" fill="#222">1.0</text>
<text transform="translate(427.35 664.1) scale(1.12 1)" font-size="10" text-anchor="middle" font-weight="normal" font-style="normal" fill="#222">1.5</text>
<path d="M289.8 567.85h3.6M289.8 609.1h3.6M309.3 650.7v-2.5M348.65 650.7v-2.5M388 650.7v-2.5M427.35 650.7v-2.5" stroke="#6a6a6a" stroke-width="1" fill="none"/>
<text transform="translate(254.1 588.4) rotate(-90)" font-size="12" text-anchor="middle" fill="#222" textLength="22.5" lengthAdjust="spacingAndGlyphs">Rho</text>
<text x="367.6" y="682.3" font-size="12.4" text-anchor="middle" font-weight="normal" font-style="normal" fill="#222" textLength="44" lengthAdjust="spacingAndGlyphs">Time (s)</text>
<clipPath id="c3"><rect x="528.3" y="526.6" width="156.6" height="124.1"/></clipPath>
<g clip-path="url(#c3)">
<path d="M531.56 568.42C532.85 568.5 536.7 568.74 539.27 568.9C541.84 569.06 544.17 569.58 546.97 569.38C549.78 569.18 553 567.7 556.13 567.7C559.26 567.7 562.55 568.98 565.76 569.38C568.97 569.78 572.59 570.11 575.39 570.11C578.2 570.11 580.21 569.91 582.62 569.38C585.03 568.86 587.24 567.54 589.85 566.97C592.46 566.41 595.67 565.89 598.28 566.01C600.88 566.13 603.09 567.02 605.5 567.7C607.91 568.38 610.52 568.7 612.73 570.11C614.93 571.51 616.54 574 618.75 576.13C620.96 578.25 623.16 580.94 625.97 582.87C628.78 584.8 632.6 586.6 635.61 587.69C638.62 588.77 641.43 589.37 644.04 589.37C646.65 589.37 648.65 588.77 651.26 587.69C653.87 586.6 657.08 585.4 659.69 582.87C662.3 580.34 664.51 575.85 666.92 572.51C669.33 569.18 671.05 566.09 674.14 562.88C677.23 559.67 683.58 554.85 685.46 553.25L685.46 571.31C683.58 572.31 677.23 574.92 674.14 577.33C671.05 579.74 669.33 582.95 666.92 585.76C664.51 588.57 662.3 591.78 659.69 594.19C657.08 596.6 653.87 598.81 651.26 600.21C648.65 601.62 646.65 602.7 644.04 602.62C641.43 602.54 638.62 601.14 635.61 599.73C632.6 598.33 628.78 596.12 625.97 594.19C623.16 592.26 620.96 589.78 618.75 588.17C616.54 586.56 614.93 584.96 612.73 584.56C610.52 584.16 607.91 585.16 605.5 585.76C603.09 586.36 600.88 586.89 598.28 588.17C595.67 589.45 592.46 591.94 589.85 593.47C587.24 594.99 585.03 596.92 582.62 597.32C580.21 597.72 578.2 597.2 575.39 595.88C572.59 594.55 568.97 591.14 565.76 589.37C562.55 587.61 559.26 585.88 556.13 585.28C553 584.68 549.78 586 546.97 585.76C544.17 585.52 541.84 584.56 539.27 583.83C536.7 583.11 532.85 581.83 531.56 581.43Z" fill="#a9c6be"/>
<path d="M531.56 573.72C532.85 574.2 536.7 576.01 539.27 576.61C541.84 577.21 544.17 577.41 546.97 577.33C549.78 577.25 553 575.73 556.13 576.13C559.26 576.53 562.55 578.62 565.76 579.74C568.97 580.86 572.59 582.27 575.39 582.87C578.2 583.47 580.21 583.75 582.62 583.35C585.03 582.95 587.24 581.47 589.85 580.46C592.46 579.46 595.67 578.05 598.28 577.33C600.88 576.61 603.09 576.25 605.5 576.13C607.91 576.01 610.52 575.61 612.73 576.61C614.93 577.61 616.54 580.22 618.75 582.15C620.96 584.08 623.16 586.36 625.97 588.17C628.78 589.98 632.6 591.78 635.61 592.99C638.62 594.19 641.43 595.31 644.04 595.39C646.65 595.48 648.65 594.67 651.26 593.47C653.87 592.26 657.08 590.66 659.69 588.17C662.3 585.68 664.51 581.55 666.92 578.54C669.33 575.53 671.05 572.72 674.14 570.11C677.23 567.5 683.58 564.08 685.46 562.88" fill="none" stroke="#76a095" stroke-width="0.6"/>
</g>
<line x1="618.3" y1="569.7" x2="664.5" y2="569.7" stroke="#29b4ea" stroke-width="2.4"/>
<line x1="528.3" y1="568.1" x2="684.9" y2="568.1" stroke="#5e5e5e" stroke-width="1.3" stroke-dasharray="7.3 2.6"/>
<line x1="547.1" y1="526.6" x2="547.1" y2="650.7" stroke="#5e5e5e" stroke-width="1.3" stroke-dasharray="7.3 2.6"/>
<rect x="528.3" y="526.6" width="156.6" height="124.1" fill="none" stroke="#9a9a9a" stroke-width="1.3"/>
<text transform="translate(522.6 530.1) scale(1.12 1)" font-size="10" text-anchor="end" font-weight="normal" font-style="normal" fill="#222">0.2</text>
<text transform="translate(522.6 571.35) scale(1.12 1)" font-size="10" text-anchor="end" font-weight="normal" font-style="normal" fill="#222">0</text>
<text transform="translate(522.6 612.6) scale(1.12 1)" font-size="10" text-anchor="end" font-weight="normal" font-style="normal" fill="#222">0.2</text>
<text transform="translate(507.13 612.6) scale(0.8 1)" font-size="10" text-anchor="end" font-weight="normal" font-style="normal" fill="#222">−</text>
<text transform="translate(522.6 653.85) scale(1.12 1)" font-size="10" text-anchor="end" font-weight="normal" font-style="normal" fill="#222">0.4</text>
<text transform="translate(507.13 653.85) scale(0.8 1)" font-size="10" text-anchor="end" font-weight="normal" font-style="normal" fill="#222">−</text>
<text transform="translate(547.1 664.1) scale(1.12 1)" font-size="10" text-anchor="middle" font-weight="normal" font-style="normal" fill="#222">0</text>
<text transform="translate(586.45 664.1) scale(1.12 1)" font-size="10" text-anchor="middle" font-weight="normal" font-style="normal" fill="#222">0.5</text>
<text transform="translate(625.8 664.1) scale(1.12 1)" font-size="10" text-anchor="middle" font-weight="normal" font-style="normal" fill="#222">1.0</text>
<text transform="translate(665.15 664.1) scale(1.12 1)" font-size="10" text-anchor="middle" font-weight="normal" font-style="normal" fill="#222">1.5</text>
<path d="M528.3 567.85h3.6M528.3 609.1h3.6M547.1 650.7v-2.5M586.45 650.7v-2.5M625.8 650.7v-2.5M665.15 650.7v-2.5" stroke="#6a6a6a" stroke-width="1" fill="none"/>
<text transform="translate(491.1 588.4) rotate(-90)" font-size="12" text-anchor="middle" fill="#222" textLength="22.5" lengthAdjust="spacingAndGlyphs">Rho</text>
<text x="606" y="682.3" font-size="12.4" text-anchor="middle" font-weight="normal" font-style="normal" fill="#222" textLength="44" lengthAdjust="spacingAndGlyphs">Time (s)</text>
</svg></body></html>
